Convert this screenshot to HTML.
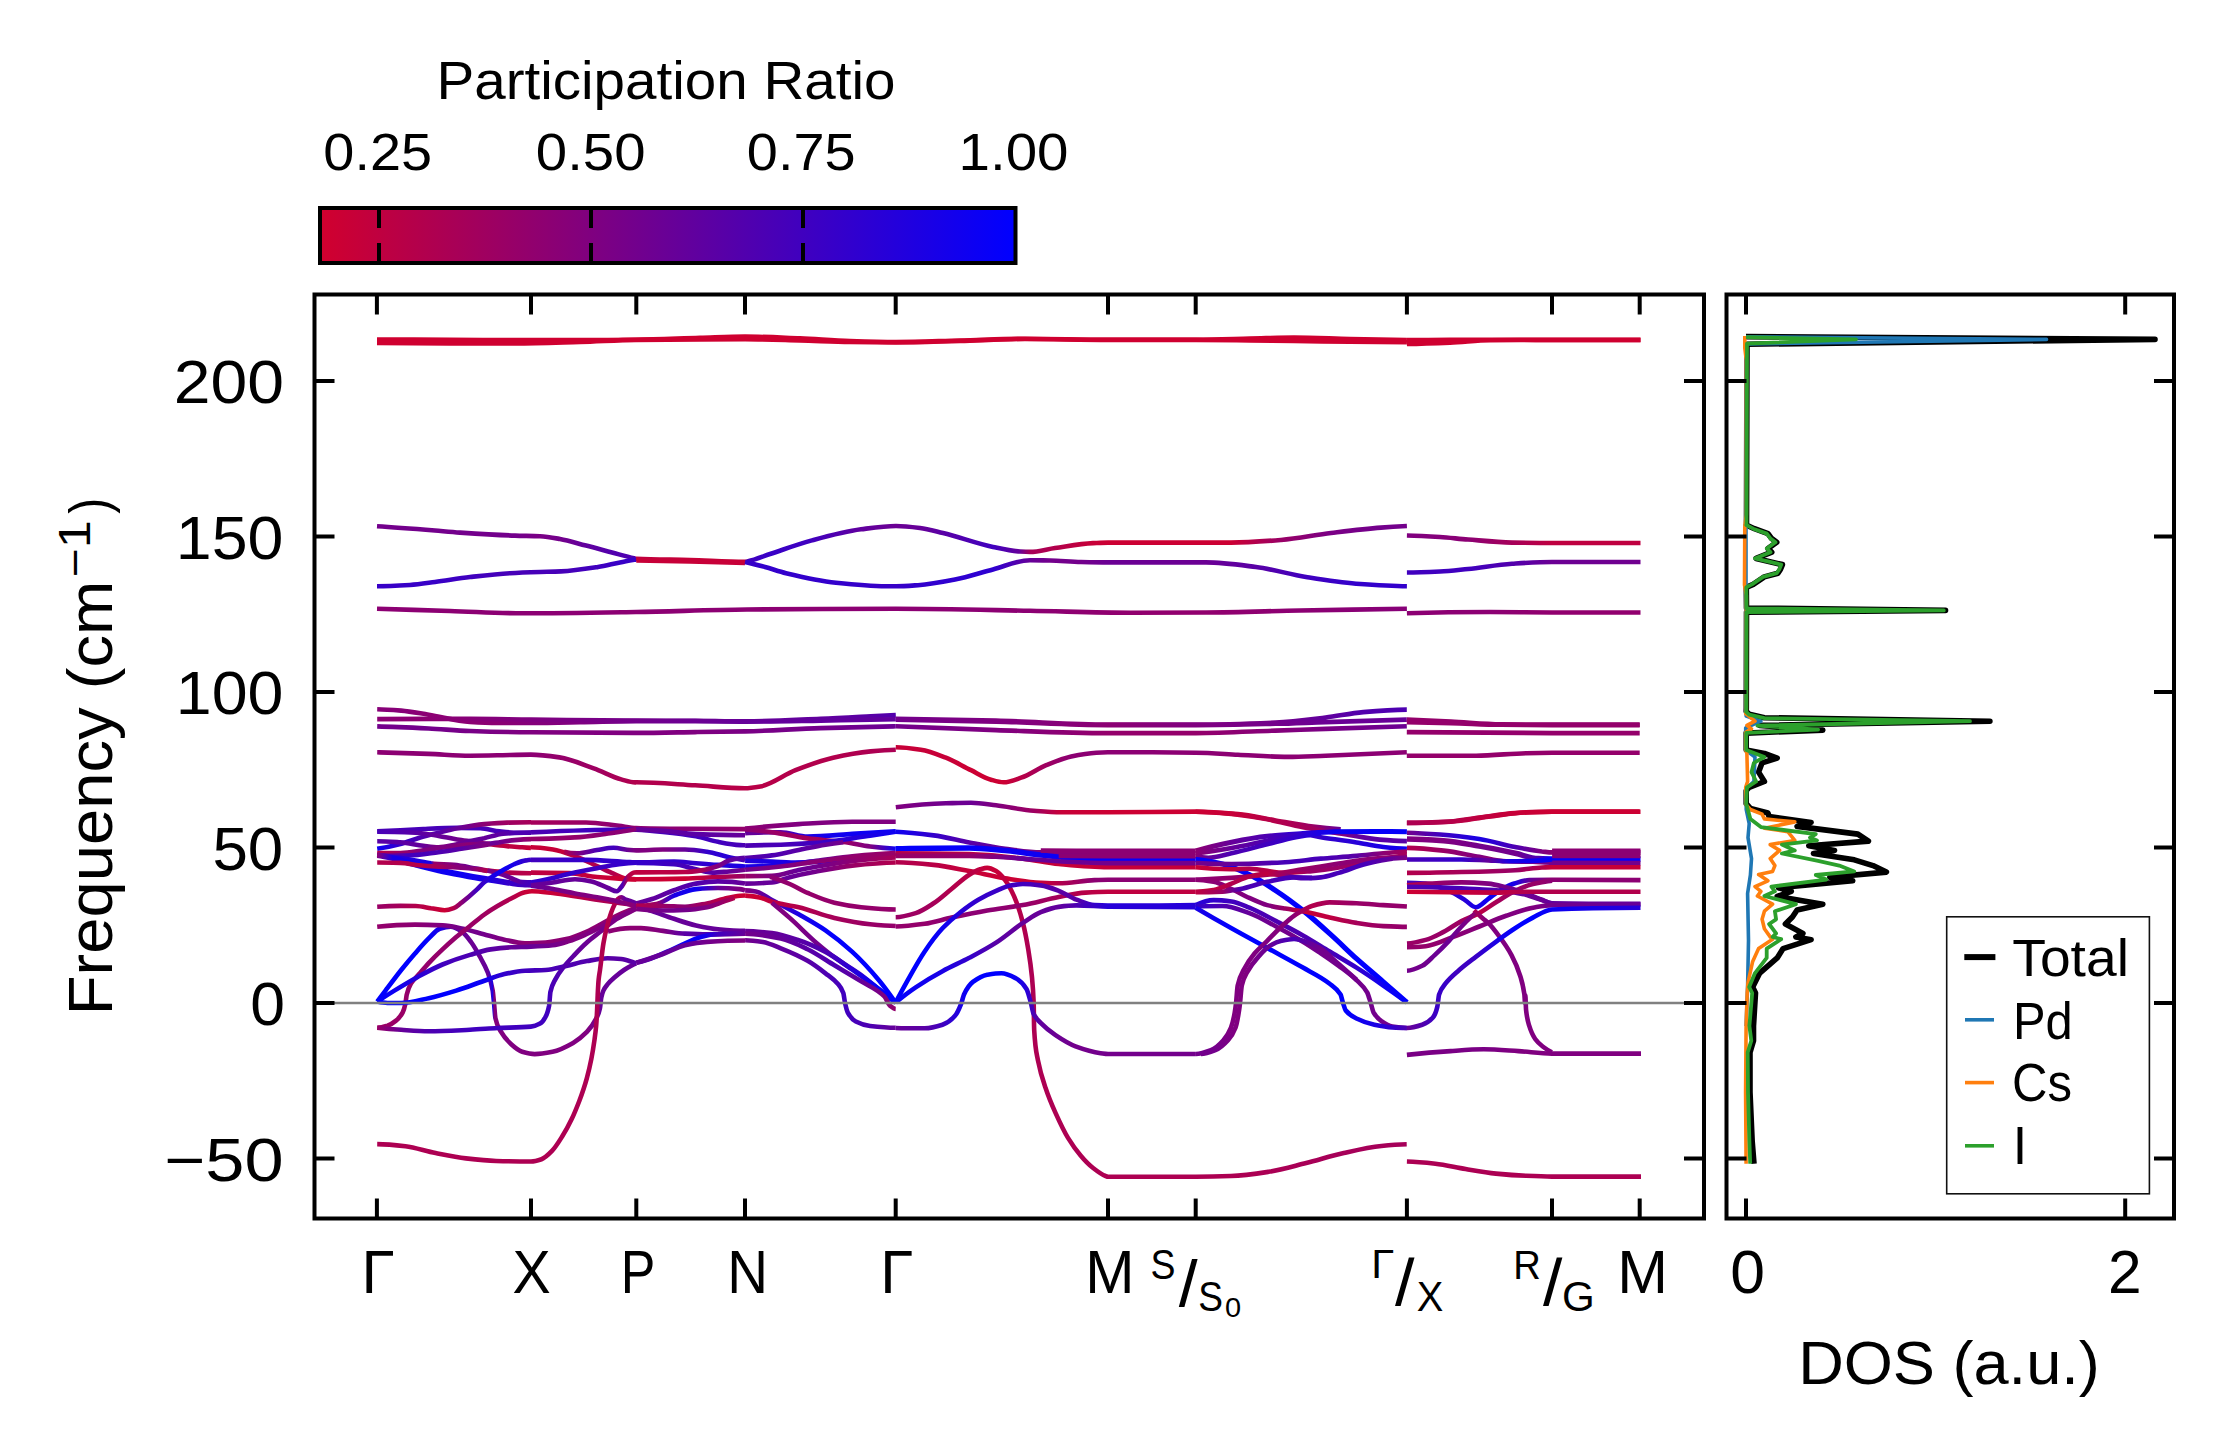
<!DOCTYPE html>
<html><head><meta charset="utf-8"><title>Phonon band structure</title>
<style>html,body{margin:0;padding:0;background:#fff}svg{display:block}</style></head>
<body><svg width="2234" height="1455" viewBox="0 0 2234 1455">
<rect width="2234" height="1455" fill="#fff"/>
<defs><linearGradient id="g1" gradientUnits="userSpaceOnUse" x1="377" y1="0" x2="1406.9" y2="0"><stop offset="0.000" stop-color="#73008c"/><stop offset="0.056" stop-color="#73008c"/><stop offset="0.081" stop-color="#73008c"/><stop offset="0.134" stop-color="#73008c"/><stop offset="0.158" stop-color="#7a0085"/><stop offset="0.178" stop-color="#73008c"/><stop offset="0.203" stop-color="#61009e"/><stop offset="0.228" stop-color="#5200ad"/><stop offset="0.250" stop-color="#4d00b2"/><stop offset="0.252" stop-color="#bf0040"/><stop offset="0.304" stop-color="#c70038"/><stop offset="0.357" stop-color="#c70038"/><stop offset="0.360" stop-color="#4000bf"/><stop offset="0.382" stop-color="#3800c7"/><stop offset="0.421" stop-color="#4000bf"/><stop offset="0.470" stop-color="#61009e"/><stop offset="0.504" stop-color="#6b0094"/><stop offset="0.527" stop-color="#660099"/><stop offset="0.550" stop-color="#5900a6"/><stop offset="0.598" stop-color="#4000bf"/><stop offset="0.624" stop-color="#660099"/><stop offset="0.634" stop-color="#a60059"/><stop offset="0.658" stop-color="#b2004c"/><stop offset="0.695" stop-color="#c70038"/><stop offset="0.710" stop-color="#cc0033"/><stop offset="0.829" stop-color="#cc0033"/><stop offset="0.878" stop-color="#990066"/><stop offset="0.926" stop-color="#7a0085"/><stop offset="0.975" stop-color="#73008c"/><stop offset="1.000" stop-color="#73008c"/></linearGradient>
<linearGradient id="g2" gradientUnits="userSpaceOnUse" x1="1406.9" y1="0" x2="1640.5" y2="0"><stop offset="0.000" stop-color="#800080"/><stop offset="0.142" stop-color="#85007a"/><stop offset="0.262" stop-color="#8c0073"/><stop offset="0.450" stop-color="#a60059"/><stop offset="0.621" stop-color="#bf0040"/><stop offset="1.000" stop-color="#bf0040"/></linearGradient>
<linearGradient id="g3" gradientUnits="userSpaceOnUse" x1="377" y1="0" x2="636.3" y2="0"><stop offset="0.000" stop-color="#3800c7"/><stop offset="0.127" stop-color="#3800c7"/><stop offset="0.224" stop-color="#3800c7"/><stop offset="0.359" stop-color="#4000bf"/><stop offset="0.513" stop-color="#4700b8"/><stop offset="0.629" stop-color="#4700b8"/><stop offset="0.710" stop-color="#4700b8"/><stop offset="0.852" stop-color="#4000bf"/><stop offset="0.937" stop-color="#3800c7"/><stop offset="1.000" stop-color="#3800c7"/></linearGradient>
<linearGradient id="g4" gradientUnits="userSpaceOnUse" x1="745" y1="0" x2="1406.9" y2="0"><stop offset="0.000" stop-color="#3800c7"/><stop offset="0.030" stop-color="#3300cc"/><stop offset="0.062" stop-color="#3300cc"/><stop offset="0.137" stop-color="#3300cc"/><stop offset="0.213" stop-color="#3800c7"/><stop offset="0.228" stop-color="#3800c7"/><stop offset="0.261" stop-color="#3300cc"/><stop offset="0.317" stop-color="#2e00d1"/><stop offset="0.375" stop-color="#2e00d1"/><stop offset="0.431" stop-color="#660099"/><stop offset="0.461" stop-color="#73008c"/><stop offset="0.508" stop-color="#73008c"/><stop offset="0.548" stop-color="#6b0094"/><stop offset="0.696" stop-color="#6b0094"/><stop offset="0.772" stop-color="#5900a6"/><stop offset="0.848" stop-color="#4000bf"/><stop offset="0.923" stop-color="#3300cc"/><stop offset="1.000" stop-color="#3300cc"/></linearGradient>
<linearGradient id="g5" gradientUnits="userSpaceOnUse" x1="1406.9" y1="0" x2="1640.5" y2="0"><stop offset="0.000" stop-color="#4000bf"/><stop offset="0.142" stop-color="#4000bf"/><stop offset="0.262" stop-color="#4000bf"/><stop offset="0.450" stop-color="#5200ad"/><stop offset="0.621" stop-color="#6b0094"/><stop offset="1.000" stop-color="#70008f"/></linearGradient>
<linearGradient id="g6" gradientUnits="userSpaceOnUse" x1="377" y1="0" x2="1406.9" y2="0"><stop offset="0.000" stop-color="#8c0073"/><stop offset="0.071" stop-color="#8c0073"/><stop offset="0.142" stop-color="#8c0073"/><stop offset="0.251" stop-color="#8c0073"/><stop offset="0.359" stop-color="#8c0073"/><stop offset="0.504" stop-color="#8c0073"/><stop offset="0.634" stop-color="#8c0073"/><stop offset="0.732" stop-color="#91006e"/><stop offset="0.805" stop-color="#91006e"/><stop offset="0.896" stop-color="#8c0073"/><stop offset="1.000" stop-color="#870078"/></linearGradient>
<linearGradient id="g7" gradientUnits="userSpaceOnUse" x1="1406.9" y1="0" x2="1640.5" y2="0"><stop offset="0.000" stop-color="#8c0073"/><stop offset="0.356" stop-color="#8c0073"/><stop offset="0.621" stop-color="#91006e"/><stop offset="1.000" stop-color="#91006e"/></linearGradient>
<linearGradient id="g8" gradientUnits="userSpaceOnUse" x1="377.2" y1="0" x2="895.8" y2="0"><stop offset="0.000" stop-color="#870078"/><stop offset="0.046" stop-color="#870078"/><stop offset="0.099" stop-color="#8c0073"/><stop offset="0.179" stop-color="#8c0073"/><stop offset="0.232" stop-color="#8c0073"/><stop offset="0.296" stop-color="#85007a"/><stop offset="0.391" stop-color="#800080"/><stop offset="0.500" stop-color="#73008c"/><stop offset="0.613" stop-color="#6b0094"/><stop offset="0.710" stop-color="#660099"/><stop offset="0.855" stop-color="#61009e"/><stop offset="0.952" stop-color="#5900a6"/><stop offset="1.000" stop-color="#5200ad"/></linearGradient>
<linearGradient id="g9" gradientUnits="userSpaceOnUse" x1="377.2" y1="0" x2="895.8" y2="0"><stop offset="0.000" stop-color="#8c0073"/><stop offset="0.099" stop-color="#8c0073"/><stop offset="0.179" stop-color="#870078"/><stop offset="0.296" stop-color="#800080"/><stop offset="0.500" stop-color="#73008c"/><stop offset="0.613" stop-color="#6b0094"/><stop offset="0.710" stop-color="#660099"/><stop offset="0.855" stop-color="#61009e"/><stop offset="0.952" stop-color="#61009e"/><stop offset="1.000" stop-color="#61009e"/></linearGradient>
<linearGradient id="g10" gradientUnits="userSpaceOnUse" x1="377.2" y1="0" x2="895.8" y2="0"><stop offset="0.000" stop-color="#73008c"/><stop offset="0.099" stop-color="#73008c"/><stop offset="0.179" stop-color="#780087"/><stop offset="0.296" stop-color="#800080"/><stop offset="0.500" stop-color="#800080"/><stop offset="0.613" stop-color="#800080"/><stop offset="0.710" stop-color="#7a0085"/><stop offset="0.855" stop-color="#73008c"/><stop offset="1.000" stop-color="#6b0094"/></linearGradient>
<linearGradient id="g11" gradientUnits="userSpaceOnUse" x1="377.2" y1="0" x2="895.8" y2="0"><stop offset="0.000" stop-color="#8c0073"/><stop offset="0.099" stop-color="#8c0073"/><stop offset="0.179" stop-color="#8c0073"/><stop offset="0.232" stop-color="#8c0073"/><stop offset="0.296" stop-color="#8c0073"/><stop offset="0.351" stop-color="#94006b"/><stop offset="0.418" stop-color="#9e0061"/><stop offset="0.471" stop-color="#ab0054"/><stop offset="0.497" stop-color="#b2004c"/><stop offset="0.500" stop-color="#b2004c"/><stop offset="0.613" stop-color="#b2004c"/><stop offset="0.709" stop-color="#b80047"/><stop offset="0.739" stop-color="#b80047"/><stop offset="0.807" stop-color="#b2004c"/><stop offset="0.879" stop-color="#b2004c"/><stop offset="0.952" stop-color="#ad0052"/><stop offset="1.000" stop-color="#ab0054"/></linearGradient>
<linearGradient id="g12" gradientUnits="userSpaceOnUse" x1="895.8" y1="0" x2="1406.8" y2="0"><stop offset="0.000" stop-color="#73008c"/><stop offset="0.196" stop-color="#800080"/><stop offset="0.415" stop-color="#8c0073"/><stop offset="0.587" stop-color="#800080"/><stop offset="0.743" stop-color="#73008c"/><stop offset="0.841" stop-color="#61009e"/><stop offset="0.915" stop-color="#5200ad"/><stop offset="1.000" stop-color="#4d00b2"/></linearGradient>
<linearGradient id="g13" gradientUnits="userSpaceOnUse" x1="895.8" y1="0" x2="1406.8" y2="0"><stop offset="0.000" stop-color="#73008c"/><stop offset="0.196" stop-color="#800080"/><stop offset="0.415" stop-color="#8c0073"/><stop offset="0.587" stop-color="#800080"/><stop offset="0.743" stop-color="#73008c"/><stop offset="0.841" stop-color="#6b0094"/><stop offset="1.000" stop-color="#660099"/></linearGradient>
<linearGradient id="g14" gradientUnits="userSpaceOnUse" x1="895.8" y1="0" x2="1406.8" y2="0"><stop offset="0.000" stop-color="#73008c"/><stop offset="0.196" stop-color="#800080"/><stop offset="0.415" stop-color="#94006b"/><stop offset="0.587" stop-color="#94006b"/><stop offset="0.743" stop-color="#85007a"/><stop offset="0.841" stop-color="#7a0085"/><stop offset="1.000" stop-color="#6b0094"/></linearGradient>
<linearGradient id="g15" gradientUnits="userSpaceOnUse" x1="895.8" y1="0" x2="1406.8" y2="0"><stop offset="0.000" stop-color="#c70038"/><stop offset="0.049" stop-color="#c70038"/><stop offset="0.098" stop-color="#c70038"/><stop offset="0.147" stop-color="#cc0033"/><stop offset="0.186" stop-color="#cc0033"/><stop offset="0.211" stop-color="#cc0033"/><stop offset="0.245" stop-color="#b80047"/><stop offset="0.294" stop-color="#9e0061"/><stop offset="0.343" stop-color="#8c0073"/><stop offset="0.392" stop-color="#8c0073"/><stop offset="0.415" stop-color="#8c0073"/><stop offset="0.587" stop-color="#8c0073"/><stop offset="0.669" stop-color="#8c0073"/><stop offset="0.768" stop-color="#8c0073"/><stop offset="0.841" stop-color="#8c0073"/><stop offset="1.000" stop-color="#8c0073"/></linearGradient>
<linearGradient id="g16" gradientUnits="userSpaceOnUse" x1="895.8" y1="0" x2="1340.7" y2="0"><stop offset="0.000" stop-color="#800080"/><stop offset="0.113" stop-color="#70008f"/><stop offset="0.169" stop-color="#6b0094"/><stop offset="0.225" stop-color="#800080"/><stop offset="0.310" stop-color="#9e0061"/><stop offset="0.372" stop-color="#c70038"/><stop offset="0.477" stop-color="#cc0033"/><stop offset="0.674" stop-color="#cc0033"/><stop offset="0.769" stop-color="#c70038"/><stop offset="0.853" stop-color="#b80047"/><stop offset="0.938" stop-color="#990066"/><stop offset="1.000" stop-color="#660099"/></linearGradient>
<linearGradient id="g17" gradientUnits="userSpaceOnUse" x1="1406.8" y1="0" x2="1639.7" y2="0"><stop offset="0.000" stop-color="#b2004c"/><stop offset="0.189" stop-color="#b80047"/><stop offset="0.351" stop-color="#bf0040"/><stop offset="0.512" stop-color="#c70038"/><stop offset="0.623" stop-color="#cc0033"/><stop offset="1.000" stop-color="#cc0033"/></linearGradient>
<linearGradient id="g18" gradientUnits="userSpaceOnUse" x1="377.2" y1="0" x2="531" y2="0"><stop offset="0.000" stop-color="#4700b8"/><stop offset="0.151" stop-color="#4700b8"/><stop offset="0.299" stop-color="#4700b8"/><stop offset="0.522" stop-color="#4700b8"/><stop offset="0.670" stop-color="#4700b8"/><stop offset="0.794" stop-color="#4700b8"/><stop offset="0.918" stop-color="#4d00b2"/><stop offset="1.000" stop-color="#5200ad"/></linearGradient>
<linearGradient id="g19" gradientUnits="userSpaceOnUse" x1="377.2" y1="0" x2="531" y2="0"><stop offset="0.000" stop-color="#0d00f2"/><stop offset="0.151" stop-color="#3300cc"/><stop offset="0.275" stop-color="#4d00b2"/><stop offset="0.398" stop-color="#5900a6"/><stop offset="0.522" stop-color="#660099"/><stop offset="0.695" stop-color="#8c0073"/><stop offset="0.844" stop-color="#9e0061"/><stop offset="1.000" stop-color="#a60059"/></linearGradient>
<linearGradient id="g20" gradientUnits="userSpaceOnUse" x1="377.2" y1="0" x2="531" y2="0"><stop offset="0.000" stop-color="#4700b8"/><stop offset="0.250" stop-color="#5900a6"/><stop offset="0.398" stop-color="#660099"/><stop offset="0.547" stop-color="#73008c"/><stop offset="0.646" stop-color="#800080"/><stop offset="0.735" stop-color="#b2004c"/><stop offset="0.844" stop-color="#bf0040"/><stop offset="0.943" stop-color="#bf0040"/><stop offset="1.000" stop-color="#c70038"/></linearGradient>
<linearGradient id="g21" gradientUnits="userSpaceOnUse" x1="377.2" y1="0" x2="531" y2="0"><stop offset="0.000" stop-color="#5900a6"/><stop offset="0.151" stop-color="#5900a6"/><stop offset="0.299" stop-color="#660099"/><stop offset="0.398" stop-color="#800080"/><stop offset="0.497" stop-color="#73008c"/><stop offset="0.596" stop-color="#660099"/><stop offset="0.695" stop-color="#660099"/><stop offset="0.819" stop-color="#5900a6"/><stop offset="0.893" stop-color="#4d00b2"/><stop offset="1.000" stop-color="#4d00b2"/></linearGradient>
<linearGradient id="g22" gradientUnits="userSpaceOnUse" x1="377.2" y1="0" x2="531" y2="0"><stop offset="0.000" stop-color="#bf0040"/><stop offset="0.151" stop-color="#990066"/><stop offset="0.299" stop-color="#800080"/><stop offset="0.448" stop-color="#800080"/><stop offset="0.596" stop-color="#8c0073"/><stop offset="0.735" stop-color="#660099"/><stop offset="0.893" stop-color="#800080"/><stop offset="1.000" stop-color="#94006b"/></linearGradient>
<linearGradient id="g23" gradientUnits="userSpaceOnUse" x1="377.2" y1="0" x2="490.2" y2="0"><stop offset="0.000" stop-color="#8c0073"/><stop offset="0.273" stop-color="#4000bf"/><stop offset="0.542" stop-color="#4d00b2"/><stop offset="0.744" stop-color="#5900a6"/><stop offset="0.946" stop-color="#800080"/><stop offset="1.000" stop-color="#800080"/></linearGradient>
<linearGradient id="g24" gradientUnits="userSpaceOnUse" x1="377.2" y1="0" x2="531" y2="0"><stop offset="0.000" stop-color="#800080"/><stop offset="0.151" stop-color="#2600d9"/><stop offset="0.349" stop-color="#1900e6"/><stop offset="0.369" stop-color="#990066"/><stop offset="0.497" stop-color="#800080"/><stop offset="0.646" stop-color="#660099"/><stop offset="0.715" stop-color="#b2004c"/><stop offset="0.794" stop-color="#bf0040"/><stop offset="0.844" stop-color="#b2004c"/><stop offset="1.000" stop-color="#b80047"/></linearGradient>
<linearGradient id="g25" gradientUnits="userSpaceOnUse" x1="377.2" y1="0" x2="531" y2="0"><stop offset="0.000" stop-color="#800080"/><stop offset="0.101" stop-color="#1900e6"/><stop offset="0.200" stop-color="#1400eb"/><stop offset="0.398" stop-color="#0d00f2"/><stop offset="0.547" stop-color="#0d00f2"/><stop offset="0.695" stop-color="#1900e6"/><stop offset="0.844" stop-color="#3300cc"/><stop offset="0.943" stop-color="#4000bf"/><stop offset="1.000" stop-color="#4d00b2"/></linearGradient>
<linearGradient id="g26" gradientUnits="userSpaceOnUse" x1="377.2" y1="0" x2="531" y2="0"><stop offset="0.000" stop-color="#8c0073"/><stop offset="0.101" stop-color="#1900e6"/><stop offset="0.200" stop-color="#1400eb"/><stop offset="0.398" stop-color="#0d00f2"/><stop offset="0.547" stop-color="#0d00f2"/><stop offset="0.695" stop-color="#1900e6"/><stop offset="0.844" stop-color="#3300cc"/><stop offset="0.943" stop-color="#4000bf"/><stop offset="1.000" stop-color="#4d00b2"/></linearGradient>
<linearGradient id="g27" gradientUnits="userSpaceOnUse" x1="487.2" y1="0" x2="531" y2="0"><stop offset="0.000" stop-color="#800080"/><stop offset="0.365" stop-color="#73008c"/><stop offset="0.625" stop-color="#660099"/><stop offset="0.799" stop-color="#4d00b2"/><stop offset="1.000" stop-color="#4000bf"/></linearGradient>
<linearGradient id="g28" gradientUnits="userSpaceOnUse" x1="377.2" y1="0" x2="487.2" y2="0"><stop offset="0.000" stop-color="#b2004c"/><stop offset="0.211" stop-color="#b2004c"/><stop offset="0.384" stop-color="#b80047"/><stop offset="0.557" stop-color="#a60059"/><stop offset="0.696" stop-color="#8c0073"/><stop offset="0.834" stop-color="#800080"/><stop offset="1.000" stop-color="#b2004c"/></linearGradient>
<linearGradient id="g29" gradientUnits="userSpaceOnUse" x1="377.2" y1="0" x2="531" y2="0"><stop offset="0.000" stop-color="#990066"/><stop offset="0.151" stop-color="#a60059"/><stop offset="0.250" stop-color="#b2004c"/><stop offset="0.349" stop-color="#bf0040"/><stop offset="0.438" stop-color="#cc0033"/><stop offset="0.497" stop-color="#b2004c"/><stop offset="0.547" stop-color="#8c0073"/><stop offset="0.646" stop-color="#4000bf"/><stop offset="0.695" stop-color="#3300cc"/><stop offset="0.745" stop-color="#1900e6"/><stop offset="0.819" stop-color="#0d00f2"/><stop offset="0.893" stop-color="#1900e6"/><stop offset="0.967" stop-color="#3300cc"/><stop offset="1.000" stop-color="#3800c7"/></linearGradient>
<linearGradient id="g30" gradientUnits="userSpaceOnUse" x1="377.2" y1="0" x2="636.2" y2="0"><stop offset="0.000" stop-color="#0000ff"/><stop offset="0.040" stop-color="#0000ff"/><stop offset="0.093" stop-color="#0000ff"/><stop offset="0.146" stop-color="#0000ff"/><stop offset="0.199" stop-color="#0500fa"/><stop offset="0.242" stop-color="#1900e6"/><stop offset="0.284" stop-color="#4d00b2"/><stop offset="0.326" stop-color="#660099"/><stop offset="0.364" stop-color="#6b0094"/><stop offset="0.395" stop-color="#6b0094"/><stop offset="0.427" stop-color="#660099"/><stop offset="0.446" stop-color="#1900e6"/><stop offset="0.451" stop-color="#8c0073"/><stop offset="0.456" stop-color="#85007a"/><stop offset="0.475" stop-color="#800080"/><stop offset="0.518" stop-color="#800080"/><stop offset="0.560" stop-color="#800080"/><stop offset="0.608" stop-color="#800080"/><stop offset="0.677" stop-color="#800080"/><stop offset="0.756" stop-color="#800080"/><stop offset="0.809" stop-color="#800080"/><stop offset="0.847" stop-color="#73008c"/><stop offset="0.860" stop-color="#660099"/><stop offset="0.865" stop-color="#660099"/><stop offset="0.873" stop-color="#660099"/><stop offset="0.889" stop-color="#660099"/><stop offset="0.916" stop-color="#660099"/><stop offset="0.953" stop-color="#660099"/><stop offset="1.000" stop-color="#660099"/></linearGradient>
<linearGradient id="g31" gradientUnits="userSpaceOnUse" x1="377.2" y1="0" x2="636.2" y2="0"><stop offset="0.000" stop-color="#94006b"/><stop offset="0.146" stop-color="#8c0073"/><stop offset="0.252" stop-color="#800080"/><stop offset="0.332" stop-color="#73008c"/><stop offset="0.411" stop-color="#73008c"/><stop offset="0.491" stop-color="#800080"/><stop offset="0.571" stop-color="#8c0073"/><stop offset="0.650" stop-color="#8c0073"/><stop offset="0.730" stop-color="#8c0073"/><stop offset="0.809" stop-color="#8c0073"/><stop offset="0.889" stop-color="#8c0073"/><stop offset="0.942" stop-color="#94006b"/><stop offset="1.000" stop-color="#990066"/></linearGradient>
<linearGradient id="g32" gradientUnits="userSpaceOnUse" x1="377.2" y1="0" x2="636.2" y2="0"><stop offset="0.000" stop-color="#990066"/><stop offset="0.040" stop-color="#990066"/><stop offset="0.072" stop-color="#990066"/><stop offset="0.098" stop-color="#990066"/><stop offset="0.109" stop-color="#990066"/><stop offset="0.114" stop-color="#94006b"/><stop offset="0.130" stop-color="#94006b"/><stop offset="0.162" stop-color="#94006b"/><stop offset="0.199" stop-color="#94006b"/><stop offset="0.252" stop-color="#94006b"/><stop offset="0.305" stop-color="#94006b"/><stop offset="0.358" stop-color="#990066"/><stop offset="0.411" stop-color="#9e0061"/><stop offset="0.464" stop-color="#a60059"/><stop offset="0.518" stop-color="#b2004c"/><stop offset="0.571" stop-color="#c70038"/><stop offset="0.597" stop-color="#cc0033"/><stop offset="0.677" stop-color="#c70038"/><stop offset="0.783" stop-color="#b80047"/><stop offset="0.889" stop-color="#ab0054"/><stop offset="1.000" stop-color="#a60059"/></linearGradient>
<linearGradient id="g33" gradientUnits="userSpaceOnUse" x1="377.2" y1="0" x2="636.2" y2="0"><stop offset="0.000" stop-color="#0000ff"/><stop offset="0.066" stop-color="#0d00f2"/><stop offset="0.157" stop-color="#2600d9"/><stop offset="0.252" stop-color="#4000bf"/><stop offset="0.358" stop-color="#4d00b2"/><stop offset="0.438" stop-color="#5900a6"/><stop offset="0.518" stop-color="#660099"/><stop offset="0.593" stop-color="#660099"/><stop offset="0.677" stop-color="#73008c"/><stop offset="0.740" stop-color="#800080"/><stop offset="0.809" stop-color="#800080"/><stop offset="0.889" stop-color="#800080"/><stop offset="0.942" stop-color="#800080"/><stop offset="1.000" stop-color="#800080"/></linearGradient>
<linearGradient id="g34" gradientUnits="userSpaceOnUse" x1="377.2" y1="0" x2="636.2" y2="0"><stop offset="0.000" stop-color="#0000ff"/><stop offset="0.040" stop-color="#0000ff"/><stop offset="0.093" stop-color="#0000ff"/><stop offset="0.199" stop-color="#0000ff"/><stop offset="0.305" stop-color="#0000ff"/><stop offset="0.411" stop-color="#0d00f2"/><stop offset="0.491" stop-color="#3300cc"/><stop offset="0.571" stop-color="#4000bf"/><stop offset="0.650" stop-color="#4700b8"/><stop offset="0.730" stop-color="#4d00b2"/><stop offset="0.809" stop-color="#5200ad"/><stop offset="0.889" stop-color="#5900a6"/><stop offset="0.942" stop-color="#5900a6"/><stop offset="0.990" stop-color="#5900a6"/><stop offset="1.000" stop-color="#5900a6"/></linearGradient>
<linearGradient id="g35" gradientUnits="userSpaceOnUse" x1="377.2" y1="0" x2="636.2" y2="0"><stop offset="0.000" stop-color="#990066"/><stop offset="0.093" stop-color="#660099"/><stop offset="0.199" stop-color="#4d00b2"/><stop offset="0.358" stop-color="#4000bf"/><stop offset="0.464" stop-color="#4000bf"/><stop offset="0.593" stop-color="#4000bf"/><stop offset="0.629" stop-color="#4000bf"/><stop offset="0.650" stop-color="#4000bf"/><stop offset="0.663" stop-color="#4000bf"/><stop offset="0.669" stop-color="#4700b8"/><stop offset="0.687" stop-color="#4d00b2"/><stop offset="0.719" stop-color="#5200ad"/><stop offset="0.762" stop-color="#61009e"/><stop offset="0.809" stop-color="#6b0094"/><stop offset="0.863" stop-color="#73008c"/><stop offset="0.916" stop-color="#7a0085"/><stop offset="0.969" stop-color="#800080"/><stop offset="1.000" stop-color="#800080"/></linearGradient>
<linearGradient id="g36" gradientUnits="userSpaceOnUse" x1="377.2" y1="0" x2="636.3" y2="0"><stop offset="0.000" stop-color="#ad0052"/><stop offset="0.109" stop-color="#ad0052"/><stop offset="0.225" stop-color="#ad0052"/><stop offset="0.342" stop-color="#ad0052"/><stop offset="0.459" stop-color="#ad0052"/><stop offset="0.594" stop-color="#ad0052"/><stop offset="0.634" stop-color="#ad0052"/><stop offset="0.675" stop-color="#ad0052"/><stop offset="0.716" stop-color="#ad0052"/><stop offset="0.751" stop-color="#ad0052"/><stop offset="0.780" stop-color="#ad0052"/><stop offset="0.809" stop-color="#ad0052"/><stop offset="0.827" stop-color="#ad0052"/><stop offset="0.838" stop-color="#ad0052"/><stop offset="0.845" stop-color="#ad0052"/><stop offset="0.849" stop-color="#ad0052"/><stop offset="0.851" stop-color="#ad0052"/><stop offset="0.855" stop-color="#ad0052"/><stop offset="0.860" stop-color="#ad0052"/><stop offset="0.873" stop-color="#b2004c"/><stop offset="0.887" stop-color="#b2004c"/><stop offset="0.903" stop-color="#b2004c"/><stop offset="0.916" stop-color="#b2004c"/><stop offset="0.929" stop-color="#a60059"/><stop offset="0.942" stop-color="#800080"/><stop offset="0.954" stop-color="#660099"/><stop offset="0.976" stop-color="#660099"/><stop offset="1.000" stop-color="#660099"/></linearGradient>
<linearGradient id="g37" gradientUnits="userSpaceOnUse" x1="531" y1="0" x2="745" y2="0"><stop offset="0.000" stop-color="#a60059"/><stop offset="0.257" stop-color="#990066"/><stop offset="0.411" stop-color="#8c0073"/><stop offset="0.492" stop-color="#8c0073"/><stop offset="0.719" stop-color="#8c0073"/><stop offset="1.000" stop-color="#94006b"/></linearGradient>
<linearGradient id="g38" gradientUnits="userSpaceOnUse" x1="531" y1="0" x2="745" y2="0"><stop offset="0.000" stop-color="#4d00b2"/><stop offset="0.257" stop-color="#4000bf"/><stop offset="0.462" stop-color="#4000bf"/><stop offset="0.492" stop-color="#4d00b2"/><stop offset="0.617" stop-color="#4700b8"/><stop offset="0.771" stop-color="#4000bf"/><stop offset="0.874" stop-color="#4000bf"/><stop offset="0.976" stop-color="#4700b8"/><stop offset="1.000" stop-color="#4d00b2"/></linearGradient>
<linearGradient id="g39" gradientUnits="userSpaceOnUse" x1="636.3" y1="0" x2="745" y2="0"><stop offset="0.000" stop-color="#660099"/><stop offset="0.246" stop-color="#61009e"/><stop offset="0.549" stop-color="#5900a6"/><stop offset="1.000" stop-color="#660099"/></linearGradient>
<linearGradient id="g40" gradientUnits="userSpaceOnUse" x1="531" y1="0" x2="636.3" y2="0"><stop offset="0.000" stop-color="#94006b"/><stop offset="0.418" stop-color="#94006b"/><stop offset="0.731" stop-color="#8c0073"/><stop offset="0.940" stop-color="#8c0073"/><stop offset="1.000" stop-color="#8c0073"/></linearGradient>
<linearGradient id="g41" gradientUnits="userSpaceOnUse" x1="531" y1="0" x2="745" y2="0"><stop offset="0.000" stop-color="#c70038"/><stop offset="0.103" stop-color="#c70038"/><stop offset="0.206" stop-color="#bf0040"/><stop offset="0.308" stop-color="#b2004c"/><stop offset="0.385" stop-color="#b2004c"/><stop offset="0.437" stop-color="#cc0033"/><stop offset="0.492" stop-color="#cc0033"/><stop offset="0.719" stop-color="#cc0033"/><stop offset="0.874" stop-color="#b2004c"/><stop offset="1.000" stop-color="#990066"/></linearGradient>
<linearGradient id="g42" gradientUnits="userSpaceOnUse" x1="531" y1="0" x2="745" y2="0"><stop offset="0.000" stop-color="#4000bf"/><stop offset="0.257" stop-color="#3300cc"/><stop offset="0.462" stop-color="#3300cc"/><stop offset="0.492" stop-color="#3300cc"/><stop offset="0.668" stop-color="#3300cc"/><stop offset="0.771" stop-color="#3300cc"/><stop offset="0.874" stop-color="#2600d9"/><stop offset="1.000" stop-color="#1900e6"/></linearGradient>
<linearGradient id="g43" gradientUnits="userSpaceOnUse" x1="636.3" y1="0" x2="745" y2="0"><stop offset="0.000" stop-color="#3300cc"/><stop offset="0.347" stop-color="#4000bf"/><stop offset="0.549" stop-color="#4d00b2"/><stop offset="0.701" stop-color="#5900a6"/><stop offset="0.852" stop-color="#660099"/><stop offset="1.000" stop-color="#73008c"/></linearGradient>
<linearGradient id="g44" gradientUnits="userSpaceOnUse" x1="564" y1="0" x2="745" y2="0"><stop offset="0.000" stop-color="#b2004c"/><stop offset="0.073" stop-color="#800080"/><stop offset="0.182" stop-color="#4d00b2"/><stop offset="0.273" stop-color="#4000bf"/><stop offset="0.365" stop-color="#73008c"/><stop offset="0.399" stop-color="#800080"/><stop offset="0.547" stop-color="#800080"/><stop offset="0.668" stop-color="#660099"/><stop offset="0.790" stop-color="#3300cc"/><stop offset="0.911" stop-color="#2600d9"/><stop offset="1.000" stop-color="#4d00b2"/></linearGradient>
<linearGradient id="g45" gradientUnits="userSpaceOnUse" x1="531" y1="0" x2="636.3" y2="0"><stop offset="0.000" stop-color="#bf0040"/><stop offset="0.366" stop-color="#bf0040"/><stop offset="0.627" stop-color="#c70038"/><stop offset="0.836" stop-color="#cc0033"/><stop offset="1.000" stop-color="#cc0033"/></linearGradient>
<linearGradient id="g46" gradientUnits="userSpaceOnUse" x1="531" y1="0" x2="636.3" y2="0"><stop offset="0.000" stop-color="#3300cc"/><stop offset="0.157" stop-color="#3300cc"/><stop offset="0.366" stop-color="#3300cc"/><stop offset="0.627" stop-color="#4000bf"/><stop offset="0.836" stop-color="#3300cc"/><stop offset="1.000" stop-color="#3300cc"/></linearGradient>
<linearGradient id="g47" gradientUnits="userSpaceOnUse" x1="531" y1="0" x2="745" y2="0"><stop offset="0.000" stop-color="#660099"/><stop offset="0.103" stop-color="#660099"/><stop offset="0.206" stop-color="#660099"/><stop offset="0.283" stop-color="#660099"/><stop offset="0.360" stop-color="#660099"/><stop offset="0.401" stop-color="#5900a6"/><stop offset="0.427" stop-color="#4d00b2"/><stop offset="0.452" stop-color="#b2004c"/><stop offset="0.483" stop-color="#bf0040"/><stop offset="0.492" stop-color="#bf0040"/><stop offset="0.719" stop-color="#b80047"/><stop offset="0.797" stop-color="#a60059"/><stop offset="0.874" stop-color="#800080"/><stop offset="0.925" stop-color="#660099"/><stop offset="0.976" stop-color="#5900a6"/><stop offset="1.000" stop-color="#5900a6"/></linearGradient>
<linearGradient id="g48" gradientUnits="userSpaceOnUse" x1="531" y1="0" x2="745" y2="0"><stop offset="0.000" stop-color="#660099"/><stop offset="0.103" stop-color="#73008c"/><stop offset="0.206" stop-color="#800080"/><stop offset="0.308" stop-color="#800080"/><stop offset="0.401" stop-color="#800080"/><stop offset="0.462" stop-color="#8c0073"/><stop offset="0.492" stop-color="#800080"/><stop offset="0.565" stop-color="#660099"/><stop offset="0.668" stop-color="#660099"/><stop offset="0.771" stop-color="#660099"/><stop offset="0.874" stop-color="#660099"/><stop offset="1.000" stop-color="#660099"/></linearGradient>
<linearGradient id="g49" gradientUnits="userSpaceOnUse" x1="636.3" y1="0" x2="745" y2="0"><stop offset="0.000" stop-color="#660099"/><stop offset="0.145" stop-color="#61009e"/><stop offset="0.347" stop-color="#5900a6"/><stop offset="0.549" stop-color="#5200ad"/><stop offset="0.751" stop-color="#5900a6"/><stop offset="1.000" stop-color="#660099"/></linearGradient>
<linearGradient id="g50" gradientUnits="userSpaceOnUse" x1="636.3" y1="0" x2="745" y2="0"><stop offset="0.000" stop-color="#b2004c"/><stop offset="0.185" stop-color="#990066"/><stop offset="0.347" stop-color="#1900e6"/><stop offset="0.549" stop-color="#0d00f2"/><stop offset="0.751" stop-color="#660099"/><stop offset="0.953" stop-color="#800080"/><stop offset="1.000" stop-color="#800080"/></linearGradient>
<linearGradient id="g51" gradientUnits="userSpaceOnUse" x1="636.3" y1="0" x2="745" y2="0"><stop offset="0.000" stop-color="#b2004c"/><stop offset="0.246" stop-color="#990066"/><stop offset="0.448" stop-color="#8c0073"/><stop offset="0.650" stop-color="#a60059"/><stop offset="0.802" stop-color="#bf0040"/><stop offset="0.953" stop-color="#cc0033"/><stop offset="1.000" stop-color="#cc0033"/></linearGradient>
<linearGradient id="g52" gradientUnits="userSpaceOnUse" x1="636.3" y1="0" x2="734.5" y2="0"><stop offset="0.000" stop-color="#800080"/><stop offset="0.272" stop-color="#73008c"/><stop offset="0.496" stop-color="#73008c"/><stop offset="0.720" stop-color="#800080"/><stop offset="0.888" stop-color="#990066"/><stop offset="1.000" stop-color="#b2004c"/></linearGradient>
<linearGradient id="g53" gradientUnits="userSpaceOnUse" x1="608" y1="0" x2="745" y2="0"><stop offset="0.000" stop-color="#8c0073"/><stop offset="0.161" stop-color="#8c0073"/><stop offset="0.241" stop-color="#8c0073"/><stop offset="0.401" stop-color="#800080"/><stop offset="0.562" stop-color="#5900a6"/><stop offset="0.722" stop-color="#4d00b2"/><stop offset="1.000" stop-color="#73008c"/></linearGradient>
<linearGradient id="g54" gradientUnits="userSpaceOnUse" x1="636.3" y1="0" x2="745" y2="0"><stop offset="0.000" stop-color="#660099"/><stop offset="0.094" stop-color="#4d00b2"/><stop offset="0.347" stop-color="#0d00f2"/><stop offset="0.549" stop-color="#0500fa"/><stop offset="0.650" stop-color="#1900e6"/><stop offset="0.751" stop-color="#4000bf"/><stop offset="1.000" stop-color="#660099"/></linearGradient>
<linearGradient id="g55" gradientUnits="userSpaceOnUse" x1="636.3" y1="0" x2="745" y2="0"><stop offset="0.000" stop-color="#660099"/><stop offset="0.246" stop-color="#660099"/><stop offset="0.448" stop-color="#660099"/><stop offset="0.650" stop-color="#73008c"/><stop offset="1.000" stop-color="#800080"/></linearGradient>
<linearGradient id="g56" gradientUnits="userSpaceOnUse" x1="745.1" y1="0" x2="895.7" y2="0"><stop offset="0.000" stop-color="#8c0073"/><stop offset="0.356" stop-color="#800080"/><stop offset="0.712" stop-color="#800080"/><stop offset="1.000" stop-color="#800080"/></linearGradient>
<linearGradient id="g57" gradientUnits="userSpaceOnUse" x1="745.1" y1="0" x2="895.7" y2="0"><stop offset="0.000" stop-color="#660099"/><stop offset="0.237" stop-color="#61009e"/><stop offset="0.415" stop-color="#1900e6"/><stop offset="0.712" stop-color="#0d00f2"/><stop offset="1.000" stop-color="#0d00f2"/></linearGradient>
<linearGradient id="g58" gradientUnits="userSpaceOnUse" x1="745.1" y1="0" x2="895.7" y2="0"><stop offset="0.000" stop-color="#8c0073"/><stop offset="0.178" stop-color="#990066"/><stop offset="0.415" stop-color="#a60059"/><stop offset="0.652" stop-color="#990066"/><stop offset="0.830" stop-color="#800080"/><stop offset="1.000" stop-color="#0d00f2"/></linearGradient>
<linearGradient id="g59" gradientUnits="userSpaceOnUse" x1="745.1" y1="0" x2="895.7" y2="0"><stop offset="0.000" stop-color="#4d00b2"/><stop offset="0.237" stop-color="#4700b8"/><stop offset="0.474" stop-color="#4000bf"/><stop offset="0.712" stop-color="#2600d9"/><stop offset="0.830" stop-color="#1900e6"/><stop offset="1.000" stop-color="#0d00f2"/></linearGradient>
<linearGradient id="g60" gradientUnits="userSpaceOnUse" x1="745.1" y1="0" x2="843.3" y2="0"><stop offset="0.000" stop-color="#5900a6"/><stop offset="0.273" stop-color="#4d00b2"/><stop offset="0.545" stop-color="#5900a6"/><stop offset="0.818" stop-color="#660099"/><stop offset="1.000" stop-color="#73008c"/></linearGradient>
<linearGradient id="g61" gradientUnits="userSpaceOnUse" x1="745.1" y1="0" x2="895.7" y2="0"><stop offset="0.000" stop-color="#2600d9"/><stop offset="0.178" stop-color="#1900e6"/><stop offset="0.356" stop-color="#1900e6"/><stop offset="0.652" stop-color="#3300cc"/><stop offset="0.830" stop-color="#800080"/><stop offset="1.000" stop-color="#990066"/></linearGradient>
<linearGradient id="g62" gradientUnits="userSpaceOnUse" x1="745.1" y1="0" x2="895.7" y2="0"><stop offset="0.000" stop-color="#1900e6"/><stop offset="0.178" stop-color="#1900e6"/><stop offset="0.356" stop-color="#2600d9"/><stop offset="0.474" stop-color="#660099"/><stop offset="0.712" stop-color="#8c0073"/><stop offset="1.000" stop-color="#990066"/></linearGradient>
<linearGradient id="g63" gradientUnits="userSpaceOnUse" x1="745.1" y1="0" x2="895.7" y2="0"><stop offset="0.000" stop-color="#73008c"/><stop offset="0.237" stop-color="#800080"/><stop offset="0.474" stop-color="#8c0073"/><stop offset="0.712" stop-color="#94006b"/><stop offset="1.000" stop-color="#990066"/></linearGradient>
<linearGradient id="g64" gradientUnits="userSpaceOnUse" x1="745.1" y1="0" x2="895.7" y2="0"><stop offset="0.000" stop-color="#990066"/><stop offset="0.178" stop-color="#800080"/><stop offset="0.356" stop-color="#660099"/><stop offset="0.593" stop-color="#800080"/><stop offset="0.830" stop-color="#990066"/><stop offset="1.000" stop-color="#a60059"/></linearGradient>
<linearGradient id="g65" gradientUnits="userSpaceOnUse" x1="745.1" y1="0" x2="895.7" y2="0"><stop offset="0.000" stop-color="#660099"/><stop offset="0.178" stop-color="#660099"/><stop offset="0.297" stop-color="#660099"/><stop offset="0.474" stop-color="#73008c"/><stop offset="0.712" stop-color="#990066"/><stop offset="1.000" stop-color="#b2004c"/></linearGradient>
<linearGradient id="g66" gradientUnits="userSpaceOnUse" x1="745.1" y1="0" x2="895.7" y2="0"><stop offset="0.000" stop-color="#800080"/><stop offset="0.071" stop-color="#73008c"/><stop offset="0.178" stop-color="#4d00b2"/><stop offset="0.356" stop-color="#1900e6"/><stop offset="0.534" stop-color="#0500fa"/><stop offset="0.712" stop-color="#0000ff"/><stop offset="0.890" stop-color="#0000ff"/><stop offset="1.000" stop-color="#0000ff"/></linearGradient>
<linearGradient id="g67" gradientUnits="userSpaceOnUse" x1="745.1" y1="0" x2="895.7" y2="0"><stop offset="0.000" stop-color="#cc0033"/><stop offset="0.095" stop-color="#cc0033"/><stop offset="0.178" stop-color="#bf0040"/><stop offset="0.356" stop-color="#b2004c"/><stop offset="0.593" stop-color="#a60059"/><stop offset="0.830" stop-color="#990066"/><stop offset="1.000" stop-color="#94006b"/></linearGradient>
<linearGradient id="g68" gradientUnits="userSpaceOnUse" x1="770.1" y1="0" x2="895.7" y2="0"><stop offset="0.000" stop-color="#8c0073"/><stop offset="0.156" stop-color="#94006b"/><stop offset="0.299" stop-color="#94006b"/><stop offset="0.512" stop-color="#94006b"/><stop offset="0.725" stop-color="#94006b"/><stop offset="1.000" stop-color="#94006b"/></linearGradient>
<linearGradient id="g69" gradientUnits="userSpaceOnUse" x1="771.9" y1="0" x2="895.7" y2="0"><stop offset="0.000" stop-color="#800080"/><stop offset="0.144" stop-color="#800080"/><stop offset="0.361" stop-color="#73008c"/><stop offset="0.505" stop-color="#660099"/><stop offset="0.722" stop-color="#3300cc"/><stop offset="0.866" stop-color="#0d00f2"/><stop offset="1.000" stop-color="#0000ff"/></linearGradient>
<linearGradient id="g70" gradientUnits="userSpaceOnUse" x1="745.1" y1="0" x2="895.7" y2="0"><stop offset="0.000" stop-color="#660099"/><stop offset="0.178" stop-color="#660099"/><stop offset="0.356" stop-color="#5900a6"/><stop offset="0.534" stop-color="#4d00b2"/><stop offset="0.712" stop-color="#2600d9"/><stop offset="0.890" stop-color="#0500fa"/><stop offset="1.000" stop-color="#0000ff"/></linearGradient>
<linearGradient id="g71" gradientUnits="userSpaceOnUse" x1="745.1" y1="0" x2="895.7" y2="0"><stop offset="0.000" stop-color="#73008c"/><stop offset="0.237" stop-color="#660099"/><stop offset="0.415" stop-color="#5900a6"/><stop offset="0.593" stop-color="#4d00b2"/><stop offset="0.771" stop-color="#660099"/><stop offset="0.925" stop-color="#800080"/><stop offset="0.961" stop-color="#8c0073"/><stop offset="1.000" stop-color="#94006b"/></linearGradient>
<linearGradient id="g72" gradientUnits="userSpaceOnUse" x1="745.1" y1="0" x2="895.7" y2="0"><stop offset="0.000" stop-color="#73008c"/><stop offset="0.119" stop-color="#660099"/><stop offset="0.237" stop-color="#61009e"/><stop offset="0.415" stop-color="#5900a6"/><stop offset="0.534" stop-color="#4d00b2"/><stop offset="0.617" stop-color="#4700b8"/><stop offset="0.652" stop-color="#4000bf"/><stop offset="0.664" stop-color="#4000bf"/><stop offset="0.682" stop-color="#4000bf"/><stop offset="0.735" stop-color="#4700b8"/><stop offset="0.830" stop-color="#4d00b2"/><stop offset="1.000" stop-color="#660099"/></linearGradient>
<linearGradient id="g73" gradientUnits="userSpaceOnUse" x1="895.7" y1="0" x2="1195.7" y2="0"><stop offset="0.000" stop-color="#0d00f2"/><stop offset="0.126" stop-color="#3300cc"/><stop offset="0.245" stop-color="#5900a6"/><stop offset="0.365" stop-color="#660099"/><stop offset="0.484" stop-color="#800080"/><stop offset="0.708" stop-color="#8c0073"/><stop offset="1.000" stop-color="#8c0073"/></linearGradient>
<linearGradient id="g74" gradientUnits="userSpaceOnUse" x1="895.7" y1="0" x2="1195.7" y2="0"><stop offset="0.000" stop-color="#0500fa"/><stop offset="0.245" stop-color="#0500fa"/><stop offset="0.365" stop-color="#0d00f2"/><stop offset="0.484" stop-color="#0d00f2"/><stop offset="0.603" stop-color="#0500fa"/><stop offset="0.708" stop-color="#0500fa"/><stop offset="1.000" stop-color="#0500fa"/></linearGradient>
<linearGradient id="g75" gradientUnits="userSpaceOnUse" x1="895.7" y1="0" x2="1195.7" y2="0"><stop offset="0.000" stop-color="#b2004c"/><stop offset="0.245" stop-color="#b2004c"/><stop offset="0.424" stop-color="#bf0040"/><stop offset="0.543" stop-color="#c70038"/><stop offset="0.708" stop-color="#c70038"/><stop offset="1.000" stop-color="#c70038"/></linearGradient>
<linearGradient id="g76" gradientUnits="userSpaceOnUse" x1="895.7" y1="0" x2="1195.7" y2="0"><stop offset="0.000" stop-color="#990066"/><stop offset="0.245" stop-color="#94006b"/><stop offset="0.335" stop-color="#800080"/><stop offset="0.424" stop-color="#660099"/><stop offset="0.543" stop-color="#660099"/><stop offset="0.708" stop-color="#73008c"/><stop offset="1.000" stop-color="#73008c"/></linearGradient>
<linearGradient id="g77" gradientUnits="userSpaceOnUse" x1="895.7" y1="0" x2="1195.7" y2="0"><stop offset="0.000" stop-color="#b2004c"/><stop offset="0.126" stop-color="#b80047"/><stop offset="0.245" stop-color="#c70038"/><stop offset="0.365" stop-color="#cc0033"/><stop offset="0.484" stop-color="#c70038"/><stop offset="0.543" stop-color="#b2004c"/><stop offset="0.662" stop-color="#8c0073"/><stop offset="0.708" stop-color="#8c0073"/><stop offset="1.000" stop-color="#8c0073"/></linearGradient>
<linearGradient id="g78" gradientUnits="userSpaceOnUse" x1="895.7" y1="0" x2="1406.7" y2="0"><stop offset="0.000" stop-color="#990066"/><stop offset="0.039" stop-color="#9e0061"/><stop offset="0.074" stop-color="#a60059"/><stop offset="0.109" stop-color="#b2004c"/><stop offset="0.144" stop-color="#b80047"/><stop offset="0.165" stop-color="#bf0040"/><stop offset="0.179" stop-color="#c70038"/><stop offset="0.197" stop-color="#c70038"/><stop offset="0.214" stop-color="#bf0040"/><stop offset="0.231" stop-color="#b80047"/><stop offset="0.249" stop-color="#b2004c"/><stop offset="0.259" stop-color="#ad0052"/><stop offset="0.266" stop-color="#ad0052"/><stop offset="0.270" stop-color="#ad0052"/><stop offset="0.271" stop-color="#ad0052"/><stop offset="0.278" stop-color="#ad0052"/><stop offset="0.293" stop-color="#ad0052"/><stop offset="0.313" stop-color="#ad0052"/><stop offset="0.337" stop-color="#ad0052"/><stop offset="0.362" stop-color="#ad0052"/><stop offset="0.386" stop-color="#ad0052"/><stop offset="0.411" stop-color="#ad0052"/><stop offset="0.416" stop-color="#ad0052"/><stop offset="0.587" stop-color="#ad0052"/><stop offset="0.656" stop-color="#ad0052"/><stop offset="0.730" stop-color="#ab0054"/><stop offset="0.803" stop-color="#a80057"/><stop offset="0.877" stop-color="#a60059"/><stop offset="0.950" stop-color="#a60059"/><stop offset="1.000" stop-color="#a60059"/></linearGradient>
<linearGradient id="g79" gradientUnits="userSpaceOnUse" x1="895.7" y1="0" x2="1195.7" y2="0"><stop offset="0.000" stop-color="#94006b"/><stop offset="0.096" stop-color="#94006b"/><stop offset="0.186" stop-color="#8c0073"/><stop offset="0.305" stop-color="#8c0073"/><stop offset="0.424" stop-color="#94006b"/><stop offset="0.543" stop-color="#a60059"/><stop offset="0.633" stop-color="#b80047"/><stop offset="0.708" stop-color="#bf0040"/><stop offset="1.000" stop-color="#bf0040"/></linearGradient>
<linearGradient id="g80" gradientUnits="userSpaceOnUse" x1="895.7" y1="0" x2="1195.7" y2="0"><stop offset="0.000" stop-color="#0000ff"/><stop offset="0.037" stop-color="#0000ff"/><stop offset="0.096" stop-color="#0000ff"/><stop offset="0.156" stop-color="#0d00f2"/><stop offset="0.216" stop-color="#2600d9"/><stop offset="0.275" stop-color="#3300cc"/><stop offset="0.335" stop-color="#3800c7"/><stop offset="0.382" stop-color="#4000bf"/><stop offset="0.424" stop-color="#4000bf"/><stop offset="0.484" stop-color="#4d00b2"/><stop offset="0.543" stop-color="#5900a6"/><stop offset="0.603" stop-color="#5900a6"/><stop offset="0.662" stop-color="#3300cc"/><stop offset="0.708" stop-color="#2600d9"/><stop offset="1.000" stop-color="#2600d9"/></linearGradient>
<linearGradient id="g81" gradientUnits="userSpaceOnUse" x1="895.7" y1="0" x2="1195.7" y2="0"><stop offset="0.000" stop-color="#0000ff"/><stop offset="0.067" stop-color="#0d00f2"/><stop offset="0.156" stop-color="#1900e6"/><stop offset="0.245" stop-color="#3300cc"/><stop offset="0.335" stop-color="#5900a6"/><stop offset="0.424" stop-color="#660099"/><stop offset="0.484" stop-color="#660099"/><stop offset="0.543" stop-color="#61009e"/><stop offset="0.603" stop-color="#4d00b2"/><stop offset="0.708" stop-color="#2600d9"/><stop offset="1.000" stop-color="#2600d9"/></linearGradient>
<linearGradient id="g82" gradientUnits="userSpaceOnUse" x1="895.7" y1="0" x2="1195.9" y2="0"><stop offset="0.000" stop-color="#660099"/><stop offset="0.096" stop-color="#5900a6"/><stop offset="0.156" stop-color="#4000bf"/><stop offset="0.198" stop-color="#2600d9"/><stop offset="0.218" stop-color="#1900e6"/><stop offset="0.227" stop-color="#0d00f2"/><stop offset="0.257" stop-color="#0000ff"/><stop offset="0.305" stop-color="#0000ff"/><stop offset="0.352" stop-color="#0000ff"/><stop offset="0.400" stop-color="#0d00f2"/><stop offset="0.436" stop-color="#2600d9"/><stop offset="0.451" stop-color="#4000bf"/><stop offset="0.460" stop-color="#4d00b2"/><stop offset="0.482" stop-color="#61009e"/><stop offset="0.532" stop-color="#6b0094"/><stop offset="0.599" stop-color="#73008c"/><stop offset="0.683" stop-color="#73008c"/><stop offset="0.708" stop-color="#73008c"/><stop offset="1.000" stop-color="#73008c"/></linearGradient>
<linearGradient id="g83" gradientUnits="userSpaceOnUse" x1="1195.7" y1="0" x2="1406.9" y2="0"><stop offset="0.000" stop-color="#cc0033"/><stop offset="0.169" stop-color="#c70038"/><stop offset="0.338" stop-color="#b80047"/><stop offset="0.508" stop-color="#a60059"/><stop offset="0.660" stop-color="#990066"/><stop offset="0.761" stop-color="#660099"/><stop offset="0.888" stop-color="#5900a6"/><stop offset="1.000" stop-color="#5900a6"/></linearGradient>
<linearGradient id="g84" gradientUnits="userSpaceOnUse" x1="1195.7" y1="0" x2="1406.9" y2="0"><stop offset="0.000" stop-color="#8c0073"/><stop offset="0.169" stop-color="#660099"/><stop offset="0.338" stop-color="#4d00b2"/><stop offset="0.508" stop-color="#2600d9"/><stop offset="0.660" stop-color="#0d00f2"/><stop offset="0.846" stop-color="#0500fa"/><stop offset="1.000" stop-color="#0500fa"/></linearGradient>
<linearGradient id="g85" gradientUnits="userSpaceOnUse" x1="1195.7" y1="0" x2="1406.9" y2="0"><stop offset="0.000" stop-color="#8c0073"/><stop offset="0.169" stop-color="#660099"/><stop offset="0.338" stop-color="#4d00b2"/><stop offset="0.508" stop-color="#3300cc"/><stop offset="0.592" stop-color="#3300cc"/><stop offset="0.761" stop-color="#2600d9"/><stop offset="0.888" stop-color="#1900e6"/><stop offset="1.000" stop-color="#0d00f2"/></linearGradient>
<linearGradient id="g86" gradientUnits="userSpaceOnUse" x1="1195.7" y1="0" x2="1320.8" y2="0"><stop offset="0.000" stop-color="#8c0073"/><stop offset="0.100" stop-color="#660099"/><stop offset="0.286" stop-color="#4d00b2"/><stop offset="0.571" stop-color="#4000bf"/><stop offset="0.800" stop-color="#3300cc"/><stop offset="1.000" stop-color="#1900e6"/></linearGradient>
<linearGradient id="g87" gradientUnits="userSpaceOnUse" x1="1195.7" y1="0" x2="1406.9" y2="0"><stop offset="0.000" stop-color="#0500fa"/><stop offset="0.127" stop-color="#0500fa"/><stop offset="0.254" stop-color="#0500fa"/><stop offset="0.381" stop-color="#0500fa"/><stop offset="0.508" stop-color="#0000ff"/><stop offset="0.635" stop-color="#0000ff"/><stop offset="0.761" stop-color="#0000ff"/><stop offset="0.888" stop-color="#0000ff"/><stop offset="1.000" stop-color="#0000ff"/></linearGradient>
<linearGradient id="g88" gradientUnits="userSpaceOnUse" x1="1195.7" y1="0" x2="1406.9" y2="0"><stop offset="0.000" stop-color="#73008c"/><stop offset="0.169" stop-color="#660099"/><stop offset="0.423" stop-color="#4700b8"/><stop offset="0.592" stop-color="#4700b8"/><stop offset="0.761" stop-color="#5900a6"/><stop offset="0.888" stop-color="#8c0073"/><stop offset="1.000" stop-color="#a60059"/></linearGradient>
<linearGradient id="g89" gradientUnits="userSpaceOnUse" x1="1195.7" y1="0" x2="1406.9" y2="0"><stop offset="0.000" stop-color="#c70038"/><stop offset="0.169" stop-color="#bf0040"/><stop offset="0.254" stop-color="#b2004c"/><stop offset="0.423" stop-color="#bf0040"/><stop offset="0.550" stop-color="#990066"/><stop offset="0.677" stop-color="#990066"/><stop offset="0.846" stop-color="#a60059"/><stop offset="1.000" stop-color="#a60059"/></linearGradient>
<linearGradient id="g90" gradientUnits="userSpaceOnUse" x1="1195.7" y1="0" x2="1406.9" y2="0"><stop offset="0.000" stop-color="#8c0073"/><stop offset="0.085" stop-color="#8c0073"/><stop offset="0.169" stop-color="#85007a"/><stop offset="0.254" stop-color="#800080"/><stop offset="0.338" stop-color="#800080"/><stop offset="0.423" stop-color="#990066"/><stop offset="0.508" stop-color="#c70038"/><stop offset="0.635" stop-color="#bf0040"/><stop offset="0.761" stop-color="#a60059"/><stop offset="0.888" stop-color="#990066"/><stop offset="1.000" stop-color="#94006b"/></linearGradient>
<linearGradient id="g91" gradientUnits="userSpaceOnUse" x1="1195.7" y1="0" x2="1406.9" y2="0"><stop offset="0.000" stop-color="#8c0073"/><stop offset="0.169" stop-color="#94006b"/><stop offset="0.338" stop-color="#a60059"/><stop offset="0.508" stop-color="#990066"/><stop offset="0.677" stop-color="#8c0073"/><stop offset="0.846" stop-color="#8c0073"/><stop offset="1.000" stop-color="#990066"/></linearGradient>
<linearGradient id="g92" gradientUnits="userSpaceOnUse" x1="1195.7" y1="0" x2="1406.9" y2="0"><stop offset="0.000" stop-color="#bf0040"/><stop offset="0.085" stop-color="#bf0040"/><stop offset="0.169" stop-color="#b2004c"/><stop offset="0.254" stop-color="#b2004c"/><stop offset="0.338" stop-color="#bf0040"/><stop offset="0.423" stop-color="#990066"/><stop offset="0.508" stop-color="#4d00b2"/><stop offset="0.592" stop-color="#4700b8"/><stop offset="0.677" stop-color="#4700b8"/><stop offset="0.804" stop-color="#4700b8"/><stop offset="0.931" stop-color="#660099"/><stop offset="1.000" stop-color="#800080"/></linearGradient>
<linearGradient id="g93" gradientUnits="userSpaceOnUse" x1="1195.7" y1="0" x2="1311.9" y2="0"><stop offset="0.000" stop-color="#bf0040"/><stop offset="0.231" stop-color="#990066"/><stop offset="0.385" stop-color="#4d00b2"/><stop offset="0.615" stop-color="#4700b8"/><stop offset="0.846" stop-color="#4700b8"/><stop offset="1.000" stop-color="#4700b8"/></linearGradient>
<linearGradient id="g94" gradientUnits="userSpaceOnUse" x1="1195.7" y1="0" x2="1406.9" y2="0"><stop offset="0.000" stop-color="#2600d9"/><stop offset="0.085" stop-color="#3300cc"/><stop offset="0.169" stop-color="#4000bf"/><stop offset="0.254" stop-color="#4700b8"/><stop offset="0.381" stop-color="#4d00b2"/><stop offset="0.508" stop-color="#4d00b2"/><stop offset="0.635" stop-color="#4700b8"/><stop offset="0.761" stop-color="#3300cc"/><stop offset="0.888" stop-color="#0d00f2"/><stop offset="1.000" stop-color="#0000ff"/></linearGradient>
<linearGradient id="g95" gradientUnits="userSpaceOnUse" x1="1195.7" y1="0" x2="1406.9" y2="0"><stop offset="0.000" stop-color="#3300cc"/><stop offset="0.127" stop-color="#4d00b2"/><stop offset="0.254" stop-color="#660099"/><stop offset="0.381" stop-color="#73008c"/><stop offset="0.508" stop-color="#73008c"/><stop offset="0.592" stop-color="#73008c"/><stop offset="0.677" stop-color="#73008c"/><stop offset="0.761" stop-color="#73008c"/><stop offset="0.812" stop-color="#73008c"/><stop offset="0.829" stop-color="#73008c"/><stop offset="0.842" stop-color="#73008c"/><stop offset="0.880" stop-color="#73008c"/><stop offset="0.931" stop-color="#6b0094"/><stop offset="1.000" stop-color="#660099"/></linearGradient>
<linearGradient id="g96" gradientUnits="userSpaceOnUse" x1="1195.7" y1="0" x2="1406.9" y2="0"><stop offset="0.000" stop-color="#1900e6"/><stop offset="0.169" stop-color="#0000ff"/><stop offset="0.338" stop-color="#0000ff"/><stop offset="0.508" stop-color="#0000ff"/><stop offset="0.635" stop-color="#0000ff"/><stop offset="0.685" stop-color="#0000ff"/><stop offset="0.698" stop-color="#0000ff"/><stop offset="0.711" stop-color="#0000ff"/><stop offset="0.761" stop-color="#0d00f2"/><stop offset="0.846" stop-color="#1900e6"/><stop offset="0.931" stop-color="#3300cc"/><stop offset="1.000" stop-color="#4d00b2"/></linearGradient>
<linearGradient id="g97" gradientUnits="userSpaceOnUse" x1="1195.9" y1="0" x2="1406.9" y2="0"><stop offset="0.000" stop-color="#73008c"/><stop offset="0.071" stop-color="#73008c"/><stop offset="0.131" stop-color="#7a0085"/><stop offset="0.166" stop-color="#800080"/><stop offset="0.184" stop-color="#800080"/><stop offset="0.190" stop-color="#800080"/><stop offset="0.198" stop-color="#800080"/><stop offset="0.228" stop-color="#800080"/><stop offset="0.279" stop-color="#800080"/><stop offset="0.338" stop-color="#800080"/><stop offset="0.406" stop-color="#85007a"/><stop offset="0.465" stop-color="#8c0073"/><stop offset="0.507" stop-color="#a60059"/><stop offset="0.550" stop-color="#b2004c"/><stop offset="0.634" stop-color="#a60059"/><stop offset="0.761" stop-color="#990066"/><stop offset="0.888" stop-color="#94006b"/><stop offset="1.000" stop-color="#94006b"/></linearGradient>
<linearGradient id="g98" gradientUnits="userSpaceOnUse" x1="1200.9" y1="0" x2="1356.5" y2="0"><stop offset="0.000" stop-color="#73008c"/><stop offset="0.093" stop-color="#73008c"/><stop offset="0.174" stop-color="#7a0085"/><stop offset="0.222" stop-color="#800080"/><stop offset="0.243" stop-color="#800080"/><stop offset="0.251" stop-color="#800080"/><stop offset="0.263" stop-color="#800080"/><stop offset="0.298" stop-color="#800080"/><stop offset="0.369" stop-color="#73008c"/><stop offset="0.449" stop-color="#660099"/><stop offset="0.518" stop-color="#5200ad"/><stop offset="0.598" stop-color="#4700b8"/><stop offset="0.690" stop-color="#61009e"/><stop offset="0.770" stop-color="#73008c"/><stop offset="0.885" stop-color="#73008c"/><stop offset="1.000" stop-color="#73008c"/></linearGradient>
<linearGradient id="g99" gradientUnits="userSpaceOnUse" x1="1407" y1="0" x2="1640.5" y2="0"><stop offset="0.000" stop-color="#ad0052"/><stop offset="0.157" stop-color="#b2004c"/><stop offset="0.310" stop-color="#bf0040"/><stop offset="0.463" stop-color="#c70038"/><stop offset="0.621" stop-color="#cc0033"/><stop offset="1.000" stop-color="#cc0033"/></linearGradient>
<linearGradient id="g100" gradientUnits="userSpaceOnUse" x1="1407" y1="0" x2="1640.5" y2="0"><stop offset="0.000" stop-color="#73008c"/><stop offset="0.142" stop-color="#4000bf"/><stop offset="0.310" stop-color="#1900e6"/><stop offset="0.463" stop-color="#4d00b2"/><stop offset="0.578" stop-color="#800080"/><stop offset="0.621" stop-color="#8c0073"/><stop offset="1.000" stop-color="#8c0073"/></linearGradient>
<linearGradient id="g101" gradientUnits="userSpaceOnUse" x1="1407" y1="0" x2="1640.5" y2="0"><stop offset="0.000" stop-color="#800080"/><stop offset="0.157" stop-color="#800080"/><stop offset="0.310" stop-color="#73008c"/><stop offset="0.463" stop-color="#73008c"/><stop offset="0.562" stop-color="#4d00b2"/><stop offset="0.621" stop-color="#0500fa"/><stop offset="1.000" stop-color="#0500fa"/></linearGradient>
<linearGradient id="g102" gradientUnits="userSpaceOnUse" x1="1407" y1="0" x2="1640.5" y2="0"><stop offset="0.000" stop-color="#b2004c"/><stop offset="0.157" stop-color="#990066"/><stop offset="0.310" stop-color="#800080"/><stop offset="0.425" stop-color="#990066"/><stop offset="0.539" stop-color="#800080"/><stop offset="0.621" stop-color="#73008c"/><stop offset="1.000" stop-color="#73008c"/></linearGradient>
<linearGradient id="g103" gradientUnits="userSpaceOnUse" x1="1407" y1="0" x2="1552.1" y2="0"><stop offset="0.000" stop-color="#4700b8"/><stop offset="0.376" stop-color="#3300cc"/><stop offset="0.560" stop-color="#660099"/><stop offset="0.708" stop-color="#1900e6"/><stop offset="0.930" stop-color="#0d00f2"/><stop offset="1.000" stop-color="#0500fa"/></linearGradient>
<linearGradient id="g104" gradientUnits="userSpaceOnUse" x1="1407" y1="0" x2="1640.5" y2="0"><stop offset="0.000" stop-color="#b2004c"/><stop offset="0.233" stop-color="#a60059"/><stop offset="0.463" stop-color="#990066"/><stop offset="0.578" stop-color="#b2004c"/><stop offset="0.621" stop-color="#c70038"/><stop offset="1.000" stop-color="#c70038"/></linearGradient>
<linearGradient id="g105" gradientUnits="userSpaceOnUse" x1="1407" y1="0" x2="1640.5" y2="0"><stop offset="0.000" stop-color="#4700b8"/><stop offset="0.080" stop-color="#4000bf"/><stop offset="0.180" stop-color="#3300cc"/><stop offset="0.249" stop-color="#2600d9"/><stop offset="0.295" stop-color="#1900e6"/><stop offset="0.348" stop-color="#0d00f2"/><stop offset="0.402" stop-color="#0d00f2"/><stop offset="0.463" stop-color="#1900e6"/><stop offset="0.524" stop-color="#660099"/><stop offset="0.621" stop-color="#8c0073"/><stop offset="1.000" stop-color="#8c0073"/></linearGradient>
<linearGradient id="g106" gradientUnits="userSpaceOnUse" x1="1407" y1="0" x2="1552.1" y2="0"><stop offset="0.000" stop-color="#990066"/><stop offset="0.129" stop-color="#990066"/><stop offset="0.252" stop-color="#990066"/><stop offset="0.376" stop-color="#9e0061"/><stop offset="0.486" stop-color="#bf0040"/><stop offset="0.622" stop-color="#a60059"/><stop offset="0.745" stop-color="#990066"/><stop offset="0.868" stop-color="#990066"/><stop offset="0.930" stop-color="#94006b"/><stop offset="1.000" stop-color="#8c0073"/></linearGradient>
<linearGradient id="g107" gradientUnits="userSpaceOnUse" x1="1474" y1="0" x2="1552" y2="0"><stop offset="0.000" stop-color="#b2004c"/><stop offset="0.115" stop-color="#8c0073"/><stop offset="0.183" stop-color="#800080"/><stop offset="0.298" stop-color="#800080"/><stop offset="0.481" stop-color="#800080"/><stop offset="0.596" stop-color="#800080"/><stop offset="0.646" stop-color="#800080"/><stop offset="0.655" stop-color="#800080"/><stop offset="0.659" stop-color="#800080"/><stop offset="0.668" stop-color="#800080"/><stop offset="0.707" stop-color="#800080"/><stop offset="0.785" stop-color="#800080"/><stop offset="0.882" stop-color="#800080"/><stop offset="1.000" stop-color="#800080"/></linearGradient>
<linearGradient id="g108" gradientUnits="userSpaceOnUse" x1="1407" y1="0" x2="1640.5" y2="0"><stop offset="0.000" stop-color="#bf0040"/><stop offset="0.096" stop-color="#990066"/><stop offset="0.233" stop-color="#8c0073"/><stop offset="0.348" stop-color="#800080"/><stop offset="0.425" stop-color="#73008c"/><stop offset="0.501" stop-color="#73008c"/><stop offset="0.578" stop-color="#6b0094"/><stop offset="0.621" stop-color="#61009e"/><stop offset="1.000" stop-color="#61009e"/></linearGradient>
<linearGradient id="g109" gradientUnits="userSpaceOnUse" x1="1407" y1="0" x2="1552.1" y2="0"><stop offset="0.000" stop-color="#4d00b2"/><stop offset="0.252" stop-color="#4700b8"/><stop offset="0.499" stop-color="#4700b8"/><stop offset="0.683" stop-color="#5900a6"/><stop offset="0.807" stop-color="#6b0094"/><stop offset="0.930" stop-color="#6b0094"/><stop offset="1.000" stop-color="#61009e"/></linearGradient>
<linearGradient id="g110" gradientUnits="userSpaceOnUse" x1="1407" y1="0" x2="1640.5" y2="0"><stop offset="0.000" stop-color="#cc0033"/><stop offset="0.187" stop-color="#c70038"/><stop offset="0.386" stop-color="#bf0040"/><stop offset="0.501" stop-color="#b2004c"/><stop offset="0.621" stop-color="#b2004c"/><stop offset="1.000" stop-color="#b2004c"/></linearGradient>
<linearGradient id="g111" gradientUnits="userSpaceOnUse" x1="1407" y1="0" x2="1640.5" y2="0"><stop offset="0.000" stop-color="#94006b"/><stop offset="0.080" stop-color="#94006b"/><stop offset="0.195" stop-color="#8c0073"/><stop offset="0.310" stop-color="#85007a"/><stop offset="0.425" stop-color="#800080"/><stop offset="0.539" stop-color="#800080"/><stop offset="0.621" stop-color="#73008c"/><stop offset="1.000" stop-color="#660099"/></linearGradient>
<linearGradient id="g112" gradientUnits="userSpaceOnUse" x1="1407" y1="0" x2="1475.8" y2="0"><stop offset="0.000" stop-color="#73008c"/><stop offset="0.221" stop-color="#73008c"/><stop offset="0.403" stop-color="#6b0094"/><stop offset="0.610" stop-color="#6b0094"/><stop offset="0.792" stop-color="#73008c"/><stop offset="0.922" stop-color="#800080"/><stop offset="1.000" stop-color="#990066"/></linearGradient>
<linearGradient id="g113" gradientUnits="userSpaceOnUse" x1="1407" y1="0" x2="1640.5" y2="0"><stop offset="0.000" stop-color="#660099"/><stop offset="0.065" stop-color="#5200ad"/><stop offset="0.111" stop-color="#4000bf"/><stop offset="0.130" stop-color="#3800c7"/><stop offset="0.138" stop-color="#3800c7"/><stop offset="0.164" stop-color="#3800c7"/><stop offset="0.218" stop-color="#4000bf"/><stop offset="0.295" stop-color="#3800c7"/><stop offset="0.386" stop-color="#1900e6"/><stop offset="0.463" stop-color="#0000ff"/><stop offset="0.539" stop-color="#0000ff"/><stop offset="0.621" stop-color="#0d00f2"/><stop offset="1.000" stop-color="#2600d9"/></linearGradient>
<linearGradient id="g114" gradientUnits="userSpaceOnUse" x1="1406.9" y1="0" x2="1641" y2="0"><stop offset="0.000" stop-color="#7a0085"/><stop offset="0.186" stop-color="#7a0085"/><stop offset="0.328" stop-color="#7a0085"/><stop offset="0.477" stop-color="#800080"/><stop offset="0.620" stop-color="#800080"/><stop offset="1.000" stop-color="#800080"/></linearGradient>
<linearGradient id="cb" x1="0" y1="0" x2="1" y2="0"><stop offset="0" stop-color="#d1002e"/><stop offset="1" stop-color="#0000ff"/></linearGradient></defs>
<g fill="none" stroke-linecap="butt" stroke-linejoin="round">
<path d="M377 339.6C401.3 339.6 425.7 339.7 450 339.8C471.7 339.9 493.3 340.1 515 340.1C536.7 340.1 558.3 340.1 580 340C598.7 340 617.3 339.9 636 339.7C657.3 339.5 678.7 338.4 700 337.8C715 337.4 730 336.6 745 336.6C763.3 336.6 781.7 337.7 800 338.4C816.7 339.1 833.3 340.5 850 341C865.3 341.5 880.7 342 896 342C917.3 342 938.7 341 960 340.5C981.7 340 1003.3 338.7 1025 338.7C1052.7 338.7 1080.3 339.7 1108 339.7C1137.3 339.7 1166.7 339.7 1196 339.7C1214 339.7 1232 339 1250 338.6C1264.7 338.3 1279.3 337.6 1294 337.6C1312.7 337.6 1331.3 338.6 1350 339C1369 339.4 1387.9 339.8 1406.9 340.1" stroke="#cf0030" stroke-width="4.6"/>
<path d="M377 342.9C401.3 343.1 425.7 343.3 450 343.4C471.7 343.5 493.3 343.5 515 343.5C536.7 343.5 558.3 342.6 580 342C598.7 341.5 617.3 340.1 636 339.9C657.3 339.6 678.7 339.5 700 339.4C715 339.3 730 339.2 745 339.2C763.3 339.2 781.7 340 800 340.5C816.7 340.9 833.3 341.8 850 342C865.3 342.2 880.7 342.4 896 342.4C917.3 342.4 938.7 341.5 960 341C981.7 340.4 1003.3 339 1025 339C1052.7 339 1080.3 339.9 1108 339.9C1137.3 339.9 1166.7 339.9 1196 339.9C1214 339.9 1232 340.2 1250 340.4C1264.7 340.6 1279.3 340.8 1294 341C1312.7 341.3 1331.3 341.6 1350 341.8C1369 342 1387.9 342.1 1406.9 342.2" stroke="#cf0030" stroke-width="4.6"/>
<path d="M1406.9 340.1C1421.3 340 1435.6 339.9 1450 339.8C1463.3 339.8 1476.7 339.7 1490 339.7C1500 339.7 1510 339.8 1520 339.8C1530.7 339.8 1541.3 339.9 1552 339.9C1581.5 339.9 1611 339.9 1640.5 339.9" stroke="#cf0030" stroke-width="4.6"/>
<path d="M1406.9 343.9C1421.3 343.7 1435.6 343.2 1450 342.6C1463.3 342.1 1476.7 340.4 1490 340.2C1500 340.1 1510 340 1520 340C1530.7 340 1541.3 340 1552 340C1581.5 340 1611 340 1640.5 340" stroke="#cf0030" stroke-width="4.6"/>
<path d="M377 526.3C396.3 527.5 415.7 529 435 530.5C443.3 531.2 451.7 532 460 532.6C478.3 533.8 496.7 535 515 535.6C523.3 535.9 531.7 535.8 540 536.2C546.7 536.5 553.3 537.8 560 539C568.7 540.5 577.3 543.4 586 545.6C594.7 547.8 603.3 550.2 612 552.5C619.3 554.4 626.7 556.5 634 558.2C634.8 558.4 635.5 558.7 636.3 558.7C654.2 559.7 672.1 559.5 690 560C708.3 560.5 726.7 561.8 745 561.8C746 561.8 747 561.5 748 561.3C755.3 559.8 762.7 556.4 770 554C783.7 549.5 797.3 544.3 811 540.6C827.7 536.1 844.3 531.5 861 529.3C872.7 527.8 884.3 526 896 526C904 526 912 527 920 528C927.7 528.9 935.3 531.2 943 533C959.7 537 976.3 543.5 993 546.9C1002 548.8 1011 551 1020 551.5C1023.3 551.7 1026.7 551.9 1030 551.9C1038.3 551.9 1046.7 549.2 1055 548C1067.7 546.2 1080.3 543.7 1093 543.1C1098 542.9 1103 542.6 1108 542.6C1149 542.6 1190 542.6 1231 542.6C1247.7 542.6 1264.3 541.3 1281 540C1297.7 538.7 1314.3 535 1331 533C1347.7 531 1364.3 528.9 1381 527.6C1389.6 526.9 1398.3 526.4 1406.9 526" stroke="url(#g1)" stroke-width="4.6"/>
<path d="M1406.9 535.5C1417.9 535.7 1429 536.3 1440 537C1449.3 537.6 1458.7 538.8 1468 539.5C1482.7 540.7 1497.3 542.3 1512 542.6C1525.3 542.8 1538.7 543 1552 543C1581.5 543 1611 543 1640.5 543" stroke="url(#g2)" stroke-width="4.6"/>
<path d="M377 586.2C388 586.2 399 585.6 410 585C418.3 584.5 426.7 583.1 435 582C446.7 580.5 458.3 578.3 470 577C483.3 575.5 496.7 573.9 510 573.2C520 572.6 530 572.3 540 572C547 571.8 554 571.7 561 571.4C573.3 570.9 585.7 568.9 598 567C605.3 565.9 612.7 563.9 620 562.5C625.4 561.4 630.9 560.4 636.3 559.4" stroke="url(#g3)" stroke-width="4.6"/>
<path d="M636.3 560.4C654.2 560.7 672.1 561.1 690 561.5C708.3 561.9 726.7 562.4 745 563" stroke="#c70038" stroke-width="4.6"/>
<path d="M745 562C751.7 563.5 758.3 565.2 765 567C772 568.9 779 571.5 786 573.2C802.7 577.2 819.3 581 836 582.7C852.7 584.4 869.3 586 886 586.2C889.3 586.2 892.7 586.3 896 586.3C903.3 586.3 910.7 585.7 918 585.2C930.3 584.3 942.7 581.9 955 579.5C967.7 577 980.3 572.7 993 569.4C1005.3 566.2 1017.7 560.2 1030 560.2C1036.7 560.2 1043.3 560.4 1050 560.5C1060.3 560.7 1070.7 561.8 1081 562C1090 562.2 1099 562.4 1108 562.4C1140.7 562.4 1173.3 562.4 1206 562.4C1222.7 562.4 1239.3 564.9 1256 567C1272.7 569.1 1289.3 574.3 1306 577C1322.7 579.7 1339.3 582.5 1356 583.7C1373 584.9 1389.9 586.1 1406.9 586.2" stroke="url(#g4)" stroke-width="4.6"/>
<path d="M1406.9 572.5C1417.9 572.5 1429 572 1440 571.5C1449.3 571.1 1458.7 569.9 1468 569C1482.7 567.5 1497.3 564.6 1512 563.7C1525.3 562.9 1538.7 562 1552 562C1581.5 562 1611 562 1640.5 562" stroke="url(#g5)" stroke-width="4.6"/>
<path d="M377 608.8C401.3 609.5 425.7 610.3 450 611C474.3 611.7 498.7 613.3 523 613.3C560.7 613.3 598.3 612.6 636 612C673 611.4 710 609.8 747 609.5C796.7 609.1 846.3 608.8 896 608.8C940.7 608.8 985.3 610 1030 610.8C1063.7 611.4 1097.3 612.8 1131 612.8C1156 612.8 1181 612.7 1206 612.5C1237.3 612.3 1268.7 611.1 1300 610.5C1335.6 609.8 1371.3 609.3 1406.9 608.8" stroke="url(#g6)" stroke-width="4.6"/>
<path d="M1406.9 613.2C1434.6 612.4 1462.3 612 1490 612C1510.7 612 1531.3 612.5 1552 612.5C1581.5 612.5 1611 612.5 1640.5 612.5" stroke="url(#g7)" stroke-width="4.6"/>
<path d="M377.2 709.2C385.2 709.4 393.2 710 401.2 710.6C410.4 711.4 419.6 713.3 428.7 714.7C442.5 716.9 456.2 721 470 721.9C479.2 722.5 488.3 723 497.5 723C508.6 723 519.8 723 530.9 723C547.3 723 563.6 722.6 580 722.3C598.7 722 617.5 721.1 636.2 721.1C655.9 721.1 675.5 721.1 695.2 721.1C711.9 721.1 728.6 721.3 745.3 721.3C770.4 721.3 795.5 719.8 820.6 718.8C837.3 718.2 854 717.2 870.7 716.3C879 715.9 887.4 715.5 895.8 715.1" stroke="url(#g8)" stroke-width="4.6"/>
<path d="M377.2 719.1C394.4 719 411.6 718.9 428.7 718.9C442.5 718.9 456.2 718.9 470 718.9C490.3 718.9 510.6 719.4 530.9 719.6C566 719.9 601.1 720.3 636.2 720.5C655.9 720.7 675.5 720.7 695.2 720.8C711.9 721 728.6 721.6 745.3 721.6C770.4 721.6 795.5 721 820.6 720.6C837.3 720.3 854 719.8 870.7 719.6C879 719.5 887.4 719.4 895.8 719.3" stroke="url(#g9)" stroke-width="4.6"/>
<path d="M377.2 726.4C394.4 726.9 411.6 727.7 428.7 728.5C442.5 729.2 456.2 730.5 470 731C490.3 731.7 510.6 732.2 530.9 732.3C566 732.7 601.1 732.9 636.2 732.9C655.9 732.9 675.5 732.4 695.2 732.1C711.9 731.9 728.6 731.7 745.3 731.4C770.4 730.8 795.5 728.9 820.6 728.1C845.6 727.3 870.7 726.7 895.8 726.3" stroke="url(#g10)" stroke-width="4.6"/>
<path d="M377.2 752.3C394.4 752.7 411.6 753.3 428.7 753.9C442.5 754.4 456.2 755.7 470 755.7C479.2 755.7 488.3 755.5 497.5 755.3C508.6 755.1 519.8 754.6 530.9 754.6C540.4 754.6 549.9 756 559.4 757.4C570.8 759 582.3 764.3 593.7 768.4C602.9 771.6 612.1 776.9 621.2 779.4C625.8 780.6 630.4 782.4 635 782.4C635.4 782.4 635.9 782.3 636.3 782.3C655.9 782.3 675.6 784.2 695.2 785.3C711.8 786.2 728.3 788.3 744.8 788.3C750 788.3 755.2 787.4 760.4 786.5C772.1 784.5 783.8 774.8 795.5 770.2C808 765.3 820.6 760.5 833.1 757.7C845.6 754.9 858.2 752.6 870.7 751.4C879 750.6 887.4 749.9 895.8 749.7" stroke="url(#g11)" stroke-width="4.6"/>
<path d="M895.8 718.8C929.2 719.1 962.6 719.8 996 720.6C1033.3 721.5 1070.6 724.6 1107.8 724.6C1137.1 724.6 1166.5 724.6 1195.8 724.6C1222.3 724.6 1248.9 723.7 1275.5 722.6C1292.2 721.9 1308.9 719.6 1325.6 717.6C1338.2 716.1 1350.7 713.1 1363.2 712.1C1377.8 710.8 1392.3 709.7 1406.8 709.6" stroke="url(#g12)" stroke-width="4.6"/>
<path d="M895.8 719.6C929.2 720.1 962.6 720.8 996 721.6C1033.3 722.5 1070.6 725.1 1107.8 725.1C1137.1 725.1 1166.5 725.1 1195.8 725.1C1222.3 725.1 1248.9 724.4 1275.5 723.8C1292.2 723.5 1308.9 722.6 1325.6 722.1C1352.7 721.2 1379.8 720.3 1406.8 719.6" stroke="url(#g13)" stroke-width="4.6"/>
<path d="M895.8 726.3C929.2 727.8 962.6 729.1 996 730.1C1033.3 731.3 1070.6 733.1 1107.8 733.1C1137.1 733.1 1166.5 733.1 1195.8 733.1C1222.3 733.1 1248.9 731.5 1275.5 730.6C1292.2 730.1 1308.9 729.4 1325.6 728.9C1352.7 728 1379.8 727.1 1406.8 726.3" stroke="url(#g14)" stroke-width="4.6"/>
<path d="M895.8 747.2C904.1 747.2 912.5 748.4 920.8 749.7C929.2 750.9 937.5 754.4 945.9 757.7C954.3 760.9 962.6 766.2 971 770.2C977.7 773.5 984.3 777.9 991 779.7C995.2 780.9 999.4 782.3 1003.6 782.3C1009.4 782.3 1015.3 779.7 1021.1 777.7C1029.5 775 1037.8 768.6 1046.2 765.2C1054.5 761.8 1062.9 758.2 1071.2 756.4C1079.6 754.7 1088 753.2 1096.3 752.7C1100.2 752.4 1104 752.2 1107.8 752.2C1137.1 752.2 1166.5 752.3 1195.8 752.7C1209.8 752.8 1223.8 754 1237.9 754.7C1254.6 755.5 1271.3 756.9 1288 756.9C1300.6 756.9 1313.1 756.1 1325.6 755.7C1352.7 754.7 1379.8 753.5 1406.8 752.2" stroke="url(#g15)" stroke-width="4.6"/>
<path d="M895.8 807.3C912.5 805.3 929.2 803.8 945.9 803.3C954.3 803.1 962.6 802.8 971 802.8C979.3 802.8 987.7 804.3 996 805.3C1008.6 806.8 1021.1 809.9 1033.6 810.8C1042.8 811.5 1052 812.3 1061.2 812.3C1076.8 812.3 1092.3 812.3 1107.8 812.3C1137.1 812.3 1166.5 811.6 1195.8 811.6C1209.8 811.6 1223.8 812.8 1237.9 814.1C1250.4 815.2 1262.9 818.3 1275.5 820.4C1288 822.4 1300.6 825.1 1313.1 826.6C1322.3 827.8 1331.5 828.7 1340.7 829.4" stroke="url(#g16)" stroke-width="4.6"/>
<path d="M1406.8 719.6C1421.6 720.2 1436.3 720.9 1451 721.6C1467.7 722.4 1484.4 724.2 1501.1 724.3C1518.1 724.5 1535 724.6 1552 724.6C1581.2 724.6 1610.5 724.6 1639.7 724.6" stroke="#94006b" stroke-width="4.6"/>
<path d="M1406.8 722.1C1421.6 722.3 1436.3 722.7 1451 723.1C1467.7 723.5 1484.4 724.7 1501.1 724.8C1518.1 725 1535 725.1 1552 725.1C1581.2 725.1 1610.5 725.1 1639.7 725.1" stroke="#94006b" stroke-width="4.6"/>
<path d="M1406.8 732.1C1455.2 732.7 1503.6 733.1 1552 733.1C1581.2 733.1 1610.5 733.1 1639.7 733.1" stroke="#94006b" stroke-width="4.6"/>
<path d="M1406.8 755.7C1429.9 755.7 1453 755.7 1476 755.7C1492.7 755.7 1509.5 753.6 1526.2 753.2C1534.8 752.9 1543.4 752.7 1552 752.7C1581.2 752.7 1610.5 752.7 1639.7 752.7" stroke="#94006b" stroke-width="4.6"/>
<path d="M1406.8 822.9C1421.6 822.9 1436.3 822.3 1451 821.6C1463.5 821 1476 818.1 1488.6 816.6C1501.1 815.1 1513.6 812.9 1526.2 812.3C1534.8 812 1543.4 811.6 1552 811.6C1581.2 811.6 1610.5 811.6 1639.7 811.6" stroke="url(#g17)" stroke-width="4.6"/>
<path d="M377.2 831.3C385 831.1 392.7 830.8 400.4 830.4C408.1 830 415.7 829.4 423.3 829C434.7 828.5 446.1 827.9 457.5 827.9C465.1 827.9 472.7 828 480.4 828.3C486.7 828.5 493 830.6 499.4 831.3C505.7 832 512.1 832.8 518.4 832.8C522.6 832.8 526.8 832.8 531 832.7" stroke="url(#g18)" stroke-width="4.6"/>
<path d="M377.2 848.8C385 847.6 392.7 845.9 400.4 843.9C406.8 842.2 413.1 839.6 419.5 837.8C425.8 836 432.2 834.4 438.5 832.8C444.8 831.2 451.2 829.5 457.5 828.3C466.4 826.6 475.3 824.9 484.2 824.1C491.8 823.4 499.4 822.7 507 822.6C515 822.4 523 822.3 531 822.3" stroke="url(#g19)" stroke-width="4.6"/>
<path d="M377.2 831.7C390 831.7 402.9 832.2 415.7 832.8C423.3 833.2 430.9 834.7 438.5 835.9C446.1 837.1 453.7 838.8 461.3 840.1C466.4 840.9 471.5 841.6 476.5 842.3C481.1 843 485.7 843.7 490.2 844.2C495.8 844.9 501.4 845.6 507 846.1C512.1 846.6 517.1 846.9 522.2 847.3C525.1 847.5 528.1 847.7 531 847.9" stroke="url(#g20)" stroke-width="4.6"/>
<path d="M377.2 841.2C385 841.2 392.7 841.8 400.4 842.3C408.1 842.9 415.7 844.9 423.3 845.8C428.3 846.4 433.4 847.3 438.5 847.3C443.6 847.3 448.6 846 453.7 845C458.8 844.1 463.9 842.3 468.9 841.2C474 840.1 479.1 839.2 484.2 838.2C490.5 836.8 496.8 834.4 503.2 833.7C507 833.4 510.8 833.1 514.6 833C520.1 832.8 525.6 832.6 531 832.5" stroke="url(#g21)" stroke-width="4.6"/>
<path d="M377.2 853C385 853 392.7 853 400.4 853C408.1 853 415.7 851.3 423.3 850.3C430.9 849.4 438.5 848.2 446.1 847.3C453.7 846.3 461.3 845.2 468.9 844.6C476 844.1 483.1 844 490.2 843.5C498.4 842.9 506.5 840.7 514.6 840.1C520.1 839.6 525.6 839.2 531 839.1" stroke="url(#g22)" stroke-width="4.6"/>
<path d="M377.2 855.7C387.5 855.7 397.8 855.6 408.1 855.5C418.2 855.4 428.3 853.5 438.5 852.2C446.1 851.3 453.7 850 461.3 848.8C468.9 847.6 476.5 846.4 484.2 845.2C486.2 844.8 488.2 844.5 490.2 844.1" stroke="url(#g23)" stroke-width="4.6"/>
<path d="M377.2 854.9C385 855.8 392.7 856.8 400.4 857.9C410.6 859.5 420.7 861.9 430.9 863.3C431.9 863.4 432.9 863.6 433.9 863.7C440.5 864.3 447.1 864.3 453.7 864.9C461.3 865.6 468.9 867.3 476.5 868.6C480.1 869.2 483.6 870.1 487.2 870.5C491.3 871 495.3 871.2 499.4 871.6C501.9 871.9 504.4 872.4 507 872.6C515 872.9 523 873.2 531 873.2" stroke="url(#g24)" stroke-width="4.6"/>
<path d="M377.2 855.7C382.4 856.4 387.6 857.5 392.8 858.7C397.9 859.9 403 861.9 408.1 863.3C418.2 866.1 428.3 868.6 438.5 870.9C446.1 872.6 453.7 874 461.3 875.4C468.9 876.9 476.5 878.4 484.2 879.6C491.8 880.9 499.4 882 507 883.1C512.1 883.7 517.1 884.7 522.2 885C525.1 885.1 528.1 885.3 531 885.3" stroke="url(#g25)" stroke-width="4.6"/>
<path d="M377.2 854.5C382.4 855.3 387.6 856.4 392.8 857.6C397.9 858.7 403 860.4 408.1 861.8C418.2 864.4 428.3 867.1 438.5 869.4C446.1 871 453.7 872.5 461.3 873.9C468.9 875.4 476.5 876.8 484.2 878.1C491.8 879.4 499.4 880.7 507 881.9C512.1 882.7 517.1 883.7 522.2 884.2C525.1 884.5 528.1 884.8 531 885" stroke="url(#g26)" stroke-width="4.6"/>
<path d="M487.2 870.5C492.5 871.4 497.9 872.9 503.2 874.7C507 875.9 510.8 878.2 514.6 879.6C517.1 880.6 519.7 882.1 522.2 882.1C525.1 882.2 528.1 882.3 531 882.3" stroke="url(#g27)" stroke-width="4.6"/>
<path d="M377.2 862.5C385 862.5 392.7 862.7 400.4 862.9C406.8 863.1 413.1 864.6 419.5 865.2C425.8 865.8 432.2 866.5 438.5 866.7C443.6 866.9 448.6 866.9 453.7 867.1C458.8 867.3 463.9 867.7 468.9 868.2C475 868.8 481.1 869.8 487.2 870.9" stroke="url(#g28)" stroke-width="4.6"/>
<path d="M377.2 906.7C385 906.2 392.7 905.9 400.4 905.9C405.5 905.9 410.6 905.9 415.7 906C420.7 906.1 425.8 907.4 430.9 908.2C435.4 908.8 440 910.3 444.6 910.3C447.6 910.3 450.7 909.3 453.7 908.2C456.3 907.3 458.8 904.8 461.3 902.8C466.4 899 471.5 894.6 476.5 889.9C479.1 887.6 481.6 884.4 484.2 882.3C486.7 880.2 489.2 878.6 491.8 877C495.6 874.5 499.4 872.3 503.2 870.1C507 868 510.8 865.6 514.6 864C518.4 862.5 522.2 860.9 526 860.4C527.7 860.1 529.4 859.9 531 859.8" stroke="url(#g29)" stroke-width="4.6"/>
<path d="M377.2 1001.6C380.6 997 384.1 992.4 387.5 987.9C392.1 981.8 396.7 975.7 401.2 970C405.8 964.3 410.4 958.8 415 953.5C419.6 948.2 424.2 942.8 428.7 938.4C432.4 934.8 436.1 929.9 439.7 928.7C443.4 927.6 447.1 926.7 450.7 926.7C454.4 926.7 458.1 929.2 461.7 931.5C465 933.5 468.2 938.1 471.4 942.5C474.1 946.2 476.9 951.2 479.6 956.2C482.4 961.2 485.1 965.4 487.9 972.7C489.5 977 491.1 981.3 492.7 990.6C493.1 993.3 493.6 999.1 494.1 1003.7C494.5 1008.3 495 1016 495.4 1018.1C497 1025.6 498.6 1027.7 500.2 1030.5C503.9 1037 507.6 1041 511.2 1044.2C514.9 1047.5 518.6 1050.7 522.2 1051.8C526.4 1053 530.5 1054.1 534.6 1054.1C540.6 1054.1 546.5 1053 552.5 1051.8C559.4 1050.4 566.2 1046.8 573.1 1042.9C577.7 1040.2 582.3 1036.6 586.9 1031.9C590.1 1028.5 593.3 1024.5 596.5 1018.1C597.6 1015.8 598.8 1013.6 599.9 1008.5C600.4 1006.5 600.8 999.7 601.3 997.5C602 994.2 602.7 992.1 603.4 990.6C604.7 987.7 606.1 986.1 607.5 984.4C609.8 981.6 612.1 979.6 614.4 977.6C617.6 974.7 620.8 972.1 624 970C628.1 967.4 632.1 965 636.2 963.4" stroke="url(#g30)" stroke-width="4.6"/>
<path d="M377.2 926.7C389.8 925.4 402.4 924.6 415 924.6C424.2 924.6 433.3 924.9 442.5 925.3C449.4 925.6 456.2 927.3 463.1 928.7C470 930.2 476.9 932.4 483.7 934.2C490.6 936.1 497.5 938.3 504.4 939.7C511.2 941.2 518.1 943.2 525 943.2C531.9 943.2 538.7 942.9 545.6 942.5C552.5 942.1 559.4 940.6 566.2 939.1C573.1 937.5 580 934.5 586.9 931.5C593.7 928.5 600.6 924 607.5 920.5C612.1 918.1 616.7 915.6 621.2 913.6C626.2 911.4 631.2 909.4 636.2 907.7" stroke="url(#g31)" stroke-width="4.6"/>
<path d="M377.2 1027.7C380.6 1027.7 384.1 1026.7 387.5 1025.7C390.2 1024.8 393 1023.1 395.7 1020.9C398 1019.1 400.3 1016.9 402.6 1012.6C403.5 1010.9 404.5 1007.8 405.4 1003.7C405.8 1001.6 406.3 996.6 406.7 994.7C408.1 989.2 409.5 986.1 410.9 983.7C413.6 979.1 416.4 977.3 419.1 974.1C422.3 970.4 425.5 966.6 428.7 963.1C433.3 958.2 437.9 953.7 442.5 949.4C447.1 945 451.7 940.9 456.2 937C460.8 933.1 465.4 929.7 470 926C474.6 922.3 479.2 918.3 483.7 915C488.3 911.7 492.9 908.8 497.5 906.1C502.1 903.3 506.7 900.8 511.2 898.5C515.8 896.2 520.4 893.2 525 892.3C527.3 891.8 529.6 891.3 531.9 891.3C538.7 891.3 545.6 892.3 552.5 893C561.7 893.9 570.8 895.7 580 897.1C589.2 898.5 598.3 899.9 607.5 901.2C617.1 902.7 626.6 904 636.2 905.4" stroke="url(#g32)" stroke-width="4.6"/>
<path d="M377.2 1001.6C382.9 997.8 388.6 994.1 394.4 990.6C402.2 985.8 410 981.1 417.7 976.9C426 972.4 434.2 967.9 442.5 964.5C451.7 960.7 460.8 957.6 470 954.9C476.9 952.8 483.7 950.4 490.6 949.4C497.5 948.4 504.4 947.7 511.2 947.3C517.8 947 524.4 946.9 530.9 946.6C538.1 946.3 545.3 946 552.5 945.2C558 944.7 563.5 942.8 569 941.1C575 939.3 580.9 936.6 586.9 934C593.7 930.9 600.6 927.2 607.5 923.5C612.1 921.1 616.7 918.1 621.2 915.7C626.2 913.1 631.2 910.6 636.2 908.4" stroke="url(#g33)" stroke-width="4.6"/>
<path d="M377.2 1001.6C380.6 1002.3 384.1 1003 387.5 1003C392.1 1003 396.7 1003 401.2 1003C410.4 1003 419.6 1000.1 428.7 998.2C437.9 996.2 447.1 993.4 456.2 990.6C465.4 987.8 474.6 984.1 483.7 981C490.6 978.7 497.5 975.6 504.4 974.1C511.2 972.6 518.1 971.1 525 970.7C531.9 970.3 538.7 970.4 545.6 970C552.5 969.6 559.4 967.4 566.2 965.9C573.1 964.4 580 962.2 586.9 961.1C593.7 959.9 600.6 958.3 607.5 958.3C612.1 958.3 616.7 958.6 621.2 959C625.4 959.4 629.5 961.1 633.6 962.4C634.5 962.7 635.4 963.1 636.2 963.4" stroke="url(#g34)" stroke-width="4.6"/>
<path d="M377.2 1027.7C385.2 1028.6 393.2 1029.3 401.2 1029.8C410.4 1030.4 419.6 1031.2 428.7 1031.2C442.5 1031.2 456.2 1030.4 470 1029.8C479.2 1029.4 488.3 1028.5 497.5 1028C508.6 1027.5 519.8 1027.6 530.9 1026.6C534 1026.4 537 1025.3 540.1 1023.6C542 1022.6 543.8 1020.2 545.6 1016.7C546.8 1014.6 547.9 1011.7 549.1 1005.7C549.5 1003.3 550 994.1 550.4 992C552 984.6 553.6 982.7 555.2 979.6C558 974.3 560.7 970.8 563.5 967.2C567.2 962.5 570.8 958.8 574.5 954.9C578.6 950.5 582.7 946.2 586.9 942.5C591.4 938.4 596 935.2 600.6 931.5C605.2 927.8 609.8 923.5 614.4 920.5C618.9 917.5 623.5 915.3 628.1 912.9C630.8 911.5 633.5 910.1 636.2 908.8" stroke="url(#g35)" stroke-width="4.6"/>
<path d="M377.2 1144.1C386.6 1144.2 396 1145.2 405.4 1146.3C415.4 1147.5 425.5 1151.2 435.6 1153.1C445.7 1155.1 455.8 1157.3 465.9 1158.4C475.9 1159.6 486 1160.8 496.1 1161C507.7 1161.3 519.4 1161.5 531 1161.5C534.5 1161.5 538 1160.4 541.5 1159.2C545 1158 548.5 1154.5 552 1150.9C555.6 1147.3 559.1 1141.4 562.6 1135.8C565.7 1130.9 568.7 1125.4 571.7 1119.1C574.2 1113.9 576.7 1107.7 579.3 1101C581.8 1094.3 584.3 1087.4 586.8 1078.3C588.3 1072.8 589.9 1066.3 591.4 1058.6C592.4 1053.5 593.4 1047.6 594.4 1040.5C595 1036.2 595.6 1032.3 596.2 1025.4C596.5 1021.9 596.8 1016.4 597.1 1010.2C597.3 1006.2 597.5 999.2 597.7 995.1C598 989 598.3 983.1 598.6 980C599.1 975.2 599.5 973.4 600 970C601.2 961.3 602.3 949.8 603.5 943C604.7 936.2 605.8 931.1 607 926.5C608.4 920.9 609.9 916.1 611.3 912.2C612.4 909.2 613.5 906.6 614.6 904.5C615.7 902.4 616.8 899.9 617.9 899C619 898.1 620.1 897.3 621.2 897.3C622.3 897.3 623.4 898.5 624.5 899C626.3 899.8 628.2 900.3 630 901C632.1 901.8 634.2 902.6 636.3 903.4" stroke="url(#g36)" stroke-width="4.6"/>
<path d="M531 822.5C549.3 822.5 567.7 822.5 586 822.5C597 822.5 608 824.6 619 825.8C624.7 826.5 630.5 827.9 636.3 828C652.5 828.6 668.7 828.7 685 828.8C705 829 725 829.1 745 829.1" stroke="url(#g37)" stroke-width="4.6"/>
<path d="M531 832.4C549.3 831.5 567.7 830.7 586 830.2C600.7 829.9 615.3 829.5 630 829.5C632.1 829.5 634.2 829.6 636.3 829.7C645.2 830.1 654.1 831 663 831.9C674 833 685 834.3 696 836.3C703.3 837.6 710.6 840.4 718 841.8C725.3 843.2 732.6 844.7 740 845.1C741.7 845.2 743.3 845.3 745 845.3" stroke="url(#g38)" stroke-width="4.6"/>
<path d="M636.3 829.5C645.2 829.7 654.1 830.2 663 830.8C674 831.5 685 833.7 696 834.1C712.3 834.7 728.7 835.2 745 835.2" stroke="url(#g39)" stroke-width="4.6"/>
<path d="M531 839C545.7 839 560.3 838.2 575 837.4C586 836.8 597 835 608 833.5C615.3 832.6 622.7 831.4 630 830.2C632.1 829.9 634.2 829.5 636.3 829.1" stroke="url(#g40)" stroke-width="4.6"/>
<path d="M531 847.3C538.3 847.3 545.7 848.4 553 849.5C560.3 850.6 567.7 853.5 575 856.1C582.3 858.7 589.7 862.6 597 866C602.5 868.5 608 871.3 613.5 873.7C617.2 875.3 620.8 877.8 624.5 878.3C628.4 878.8 632.3 879.2 636.3 879.2C652.5 879.2 668.7 879 685 878.6C696 878.4 707 877.4 718 877C727 876.6 736 876.3 745 876.1" stroke="url(#g41)" stroke-width="4.6"/>
<path d="M531 859.9C549.3 859.9 567.7 859.9 586 859.9C600.7 859.9 615.3 861.6 630 862.1C632.1 862.2 634.2 862.4 636.3 862.4C648.8 862.4 661.4 861.6 674 861.6C681.3 861.6 688.6 862.7 696 863.2C703.3 863.8 710.6 864.4 718 864.9C727 865.5 736 866.1 745 866.5" stroke="url(#g42)" stroke-width="4.6"/>
<path d="M636.3 862.9C648.8 862.9 661.4 863.5 674 864.3C681.3 864.8 688.6 867.7 696 869.3C701.5 870.5 707 872.6 712.5 872.6C718 872.6 723.5 871.9 729 871.5C734.3 871.1 739.7 870.5 745 869.8" stroke="url(#g43)" stroke-width="4.6"/>
<path d="M564 851.7C568.4 852.8 572.8 853.3 577.2 853.3C583.8 853.3 590.4 851 597 850C602.5 849.2 608 847.8 613.5 847.8C619 847.8 624.5 849.7 630 850C632.1 850.2 634.2 850.4 636.3 850.4C645.2 850.4 654.1 849.5 663 849.5C670.3 849.5 677.6 849.5 685 849.5C692.3 849.5 699.6 850.6 707 851.7C714.3 852.7 721.6 855.6 729 857.2C734.3 858.3 739.7 859.4 745 860.3" stroke="url(#g44)" stroke-width="4.6"/>
<path d="M531 872.6C543.8 872.6 556.7 872.8 569.5 873.1C578.7 873.4 587.8 876.1 597 877C604.3 877.7 611.7 878.2 619 878.6C624.7 879 630.5 879.2 636.3 879.4" stroke="url(#g45)" stroke-width="4.6"/>
<path d="M531 882.5C536.5 881.5 542 880.4 547.5 879.2C554.8 877.6 562.2 875.3 569.5 873.7C578.7 871.6 587.8 869.9 597 868.2C604.3 866.8 611.7 865.2 619 864.3C624.7 863.6 630.5 863 636.3 862.7" stroke="url(#g46)" stroke-width="4.6"/>
<path d="M531 885.2C538.3 884.4 545.7 883.5 553 882.5C560.3 881.5 567.7 879.2 575 879.2C580.5 879.2 586 880.3 591.5 881.4C597 882.5 602.5 885.9 608 888C610.9 889.1 613.9 891.3 616.8 891.3C618.6 891.3 620.5 888 622.3 885.8C624.1 883.5 626 878.7 627.8 877C630 874.9 632.2 873 634.4 872.6C635 872.5 635.6 872.4 636.3 872.4C652.5 872.1 668.7 872.3 685 872C690.5 872 696 871.2 701.5 870.4C707 869.6 712.5 867.9 718 866C721.6 864.7 725.3 861.5 729 860.5C732.6 859.4 736.3 858.8 740 858.3C741.7 858.1 743.3 857.9 745 857.7" stroke="url(#g47)" stroke-width="4.6"/>
<path d="M531 885.6C538.3 886.6 545.7 887.8 553 889.1C560.3 890.4 567.7 892.1 575 893.5C582.3 894.9 589.7 896 597 897.3C603.6 898.6 610.2 899.7 616.8 901.2C621.2 902.2 625.6 903.4 630 904.5C632.1 905 634.2 905.5 636.3 906.1C641.5 907.6 646.7 909.4 652 911.1C659.3 913.5 666.6 916.4 674 918.8C681.3 921.2 688.6 923.8 696 925.4C703.3 927 710.6 928.6 718 929.2C727 930.1 736 930.9 745 930.9" stroke="url(#g48)" stroke-width="4.6"/>
<path d="M636.3 903.4C641.5 902.2 646.7 900.7 652 899C659.3 896.6 666.6 892.7 674 890.2C681.3 887.7 688.6 884.7 696 883.6C703.3 882.5 710.6 881.4 718 881.4C727 881.4 736 882 745 883.6" stroke="url(#g49)" stroke-width="4.6"/>
<path d="M636.3 905.8C643 905.8 649.7 905 656.4 903.9C662.2 903 668.1 897.9 674 895.7C681.3 893 688.6 889.7 696 889.1C703.3 888.5 710.6 888 718 888C725.3 888 732.6 888.4 740 889.1C741.7 889.3 743.3 889.9 745 890.4" stroke="url(#g50)" stroke-width="4.6"/>
<path d="M636.3 906.1C645.2 906.1 654.1 906.1 663 906.1C670.3 906.1 677.6 906.7 685 906.7C692.3 906.7 699.6 904.8 707 903.4C712.5 902.3 718 900.2 723.5 899C729 897.7 734.5 896 740 895.7C741.7 895.6 743.3 895.5 745 895.5" stroke="url(#g51)" stroke-width="4.6"/>
<path d="M636.3 908.9C645.2 909.9 654.1 910.5 663 910.5C670.3 910.5 677.6 910.3 685 910C692.3 909.7 699.6 908.6 707 907.2C712.5 906.2 718 903.6 723.5 901.7C727.1 900.5 730.8 899.2 734.5 897.9" stroke="url(#g52)" stroke-width="4.6"/>
<path d="M608 931.4C615.3 929.6 622.7 928.1 630 928.1C633.7 928.1 637.3 928.1 641 928.1C648.3 928.1 655.7 930 663 930.9C670.3 931.8 677.6 933.2 685 933.6C692.3 934 699.6 934.4 707 934.4C719.7 934.4 732.3 934.3 745 933.6" stroke="url(#g53)" stroke-width="4.6"/>
<path d="M636.3 962.8C639.7 962 643.1 961.1 646.5 960C655.7 957.1 664.8 952.5 674 948.5C681.3 945.3 688.6 941.1 696 938.6C699.6 937.3 703.3 936.2 707 935.5C710.6 934.8 714.3 934.1 718 934C727 933.5 736 933.3 745 933.3" stroke="url(#g54)" stroke-width="4.6"/>
<path d="M636.3 962.8C645.2 960.2 654.1 957.2 663 954C670.3 951.3 677.6 946.8 685 945.2C692.3 943.6 699.6 942.3 707 941.9C719.7 941.1 732.3 940.5 745 940.5" stroke="url(#g55)" stroke-width="4.6"/>
<path d="M745.1 828.6C762.9 826.7 780.8 825.1 798.7 824.1C816.5 823.1 834.4 821.8 852.3 821.8C866.7 821.8 881.2 821.8 895.7 821.8" stroke="url(#g56)" stroke-width="4.6"/>
<path d="M745.1 833.1C757 832.2 768.9 832.2 780.8 832.2C789.7 832.2 798.7 836.6 807.6 836.6C822.5 836.6 837.4 834.9 852.3 833.9C866.7 833.1 881.2 832.2 895.7 831.3" stroke="url(#g57)" stroke-width="4.6"/>
<path d="M745.1 829.5C754 830.1 762.9 831 771.9 832.2C783.8 833.7 795.7 836.9 807.6 838.4C819.5 839.9 831.4 840.5 843.3 842C852.3 843.1 861.2 845.4 870.1 846.5C878.7 847.5 887.2 848.3 895.7 848.8" stroke="url(#g58)" stroke-width="4.6"/>
<path d="M745.1 845.6C757 845.4 768.9 845.1 780.8 844.7C792.7 844.3 804.6 843.7 816.5 842.9C828.4 842 840.4 840.1 852.3 838.4C858.2 837.6 864.2 836.6 870.1 835.7C878.7 834.4 887.2 833.1 895.7 831.8" stroke="url(#g59)" stroke-width="4.6"/>
<path d="M745.1 858.1C754 857.6 762.9 856.6 771.9 855.4C780.8 854.2 789.7 851.8 798.7 850C807.6 848.2 816.5 846.1 825.5 844.7C831.4 843.7 837.4 842.9 843.3 842.2" stroke="url(#g60)" stroke-width="4.6"/>
<path d="M745.1 860.7C754 861 762.9 861.3 771.9 861.6C780.8 861.9 789.7 862.5 798.7 862.5C813.6 862.5 828.4 861.1 843.3 859.9C852.3 859.1 861.2 857.9 870.1 856.8C878.7 855.8 887.2 854.7 895.7 853.6" stroke="url(#g61)" stroke-width="4.6"/>
<path d="M745.1 866.5C754 866.5 762.9 866.1 771.9 865.7C780.8 865.4 789.7 863.9 798.7 862.9C804.6 862.2 810.6 861.5 816.5 860.7C828.4 859.3 840.4 857.4 852.3 856.3C866.7 854.9 881.2 853.7 895.7 853.1" stroke="url(#g62)" stroke-width="4.6"/>
<path d="M745.1 869.7C757 868.9 768.9 867.8 780.8 866.5C792.7 865.2 804.6 863.1 816.5 861.6C828.4 860.2 840.4 858.4 852.3 857.5C866.7 856.5 881.2 855.6 895.7 855.4" stroke="url(#g63)" stroke-width="4.6"/>
<path d="M745.1 876.1C754 876.1 762.9 876 771.9 875.9C780.8 875.8 789.7 871.8 798.7 870C810.6 867.7 822.5 865.5 834.4 863.8C846.3 862 858.2 860.4 870.1 859.3C878.7 858.6 887.2 857.9 895.7 857.5" stroke="url(#g64)" stroke-width="4.6"/>
<path d="M745.1 883.6C754 883.6 762.9 883.2 771.9 882.5C777.8 882.1 783.8 878.7 789.7 877.2C798.7 874.9 807.6 873.1 816.5 871.5C828.4 869.2 840.4 866.8 852.3 865.6C866.7 864.1 881.2 862.8 895.7 862.5" stroke="url(#g65)" stroke-width="4.6"/>
<path d="M745.1 890.4C748.6 890.4 752.2 890.9 755.8 891.5C761.1 892.3 766.5 897.2 771.9 900.1C780.8 904.8 789.7 909.3 798.7 914.3C807.6 919.4 816.5 924.3 825.5 930.4C834.4 936.6 843.3 943.7 852.3 951.9C861.2 960 870.1 969.7 879.1 980.5C884.6 987.1 890.1 994.8 895.7 1002.8" stroke="url(#g66)" stroke-width="4.6"/>
<path d="M745.1 895.6C749.8 895.6 754.6 896.5 759.4 897.4C763.5 898.2 767.7 900.7 771.9 901.8C780.8 904.2 789.7 905.1 798.7 907.2C810.6 910 822.5 915.3 834.4 917.9C846.3 920.6 858.2 923 870.1 924.2C878.7 925 887.2 925.7 895.7 926" stroke="url(#g67)" stroke-width="4.6"/>
<path d="M770.1 876.8C776.6 878.7 783.2 881.2 789.7 884C795.7 886.5 801.6 890.4 807.6 892.9C816.5 896.7 825.5 900.7 834.4 902.7C843.3 904.8 852.3 906.3 861.2 907.2C872.7 908.3 884.2 909.4 895.7 909.5" stroke="url(#g68)" stroke-width="4.6"/>
<path d="M771.9 902.7C777.8 907.6 783.8 912.6 789.7 917.9C798.7 925.8 807.6 935.3 816.5 942.9C822.5 948 828.4 952.9 834.4 957.2C843.3 963.8 852.3 968.6 861.2 975.1C867.2 979.5 873.1 984.6 879.1 989.4C884.6 993.8 890.1 998.3 895.7 1002.8" stroke="url(#g69)" stroke-width="4.6"/>
<path d="M745.1 931C754 931 762.9 932 771.9 933.1C780.8 934.2 789.7 937.3 798.7 940.3C807.6 943.2 816.5 947.2 825.5 951.9C834.4 956.6 843.3 963.5 852.3 969.7C861.2 976 870.1 982.5 879.1 989.4C884.6 993.7 890.1 998.2 895.7 1002.8" stroke="url(#g70)" stroke-width="4.6"/>
<path d="M745.1 933.6C757 933.6 768.9 936 780.8 938.5C789.7 940.3 798.7 944.9 807.6 949.2C816.5 953.5 825.5 959.9 834.4 965.3C843.3 970.6 852.3 975.8 861.2 981.3C868.9 986.2 876.7 988.5 884.4 996.5C886.2 998.4 888 1003.9 889.8 1005.5C891.8 1007.2 893.7 1008.9 895.7 1009" stroke="url(#g71)" stroke-width="4.6"/>
<path d="M745.1 940.3C751 940.3 757 941.1 762.9 942C768.9 943 774.8 945.9 780.8 948.3C789.7 951.8 798.7 955.7 807.6 960.8C813.6 964.2 819.5 968.7 825.5 973.3C829.6 976.5 833.8 979.1 838 984C839.8 986.1 841.5 987.9 843.3 993C843.9 994.7 844.5 1000.7 845.1 1003.3C846 1007.3 846.9 1011 847.8 1012.6C850.5 1017.5 853.2 1020.2 855.8 1021.5C860.6 1024 865.4 1025.4 870.1 1026C878.7 1027 887.2 1027.8 895.7 1027.8" stroke="url(#g72)" stroke-width="4.6"/>
<path d="M895.7 831.8C908.3 832.3 921 833.8 933.6 835.4C945.5 836.9 957.4 840.3 969.3 842.5C981.2 844.8 993.2 847.3 1005.1 848.8C1017 850.3 1028.9 852.1 1040.8 852.4C1063.2 852.9 1085.6 853.3 1108 853.3C1137.2 853.3 1166.5 853.3 1195.7 853.3" stroke="url(#g73)" stroke-width="4.6"/>
<path d="M895.7 848.8C920.3 847.9 944.8 847.9 969.3 847.9C981.2 847.9 993.2 849.5 1005.1 850.6C1017 851.7 1028.9 853.7 1040.8 855C1052.7 856.4 1064.6 858.1 1076.5 858.6C1087 859.1 1097.5 859.5 1108 859.5C1137.2 859.5 1166.5 859.5 1195.7 859.5" stroke="url(#g74)" stroke-width="5.5"/>
<path d="M895.7 853.3C920.3 853.3 944.8 853.6 969.3 854.1C987.2 854.5 1005.1 856.7 1022.9 858.6C1034.8 859.9 1046.8 862.9 1058.7 864C1075.1 865.5 1091.5 867.2 1108 867.2C1137.2 867.2 1166.5 867.2 1195.7 867.2" stroke="url(#g75)" stroke-width="4.6"/>
<path d="M895.7 855.9C920.3 855.9 944.8 855.9 969.3 855.9C978.3 855.9 987.2 856.4 996.1 856.8C1005.1 857.2 1014 858 1022.9 858.6C1034.8 859.5 1046.8 860.7 1058.7 861.3C1075.1 862.1 1091.5 863.1 1108 863.1C1137.2 863.1 1166.5 863.1 1195.7 863.1" stroke="url(#g76)" stroke-width="4.6"/>
<path d="M895.7 862.2C908.3 862.4 921 863.6 933.6 864.9C945.5 866.1 957.4 868.9 969.3 871.1C981.2 873.3 993.2 876.4 1005.1 878.3C1017 880.1 1028.9 882.2 1040.8 882.7C1046.8 883 1052.7 883.3 1058.7 883.3C1070.6 883.3 1082.5 880.5 1094.4 880.1C1098.9 879.9 1103.5 879.7 1108 879.7C1137.2 879.7 1166.5 879.7 1195.7 879.7" stroke="url(#g77)" stroke-width="4.6"/>
<path d="M895.7 917.2C902.4 917.1 909.1 915.1 915.7 913.1C921.7 911.3 927.6 907.2 933.6 903.3C939.6 899.4 945.5 893.8 951.5 889C957.4 884.2 963.4 878.3 969.3 874.7C972.9 872.5 976.5 870.3 980.1 869.3C982.4 868.7 984.8 867.9 987.2 867.9C990.2 867.9 993.2 869.5 996.1 871.1C999.1 872.7 1002.1 876.2 1005.1 880.1C1008 883.9 1011 889.4 1014 896.1C1017 902.8 1020 911.5 1022.9 922.9C1024.7 929.8 1026.5 938.9 1028.3 949.7C1029.5 957 1030.7 964.2 1031.9 976.5C1032.5 982.7 1033.1 988 1033.7 1003.3C1033.8 1007.8 1034 1027.2 1034.2 1030.1C1035.4 1051.4 1036.7 1053.6 1037.9 1060.2C1040.4 1073.4 1042.9 1080.3 1045.5 1087.8C1048.8 1097.8 1052.1 1105.4 1055.5 1112.9C1059.7 1122.2 1063.8 1131.1 1068 1137.9C1072.2 1144.8 1076.4 1150.6 1080.6 1155.5C1084.7 1160.4 1088.9 1164.8 1093.1 1168C1097.3 1171.3 1101.4 1174.5 1105.6 1176C1106.5 1176.4 1107.3 1176.8 1108.1 1176.8C1137.4 1176.8 1166.6 1176.8 1195.9 1176.8C1207.6 1176.8 1219.3 1176.5 1231 1176C1243.5 1175.6 1256 1173.7 1268.6 1171.8C1281.1 1169.9 1293.6 1166.1 1306.2 1163C1318.7 1159.9 1331.2 1155.7 1343.8 1153C1356.3 1150.2 1368.8 1147.2 1381.4 1146C1389.8 1145.1 1398.3 1144.4 1406.7 1144.2" stroke="url(#g78)" stroke-width="4.6"/>
<path d="M895.7 926.5C905.4 926.3 915 925.1 924.7 923.8C933.6 922.6 942.5 919.5 951.5 917.6C963.4 915 975.3 912.5 987.2 910.4C999.1 908.4 1011 907.2 1022.9 905.1C1034.8 902.9 1046.8 899.3 1058.7 897C1067.6 895.3 1076.5 893.1 1085.5 892.6C1093 892.1 1100.5 891.7 1108 891.7C1137.2 891.7 1166.5 891.7 1195.7 891.7" stroke="url(#g79)" stroke-width="4.6"/>
<path d="M895.7 1002.4C899.4 995.4 903.1 988.5 906.8 981.9C912.8 971.3 918.7 960.3 924.7 951.5C930.6 942.7 936.6 934.6 942.5 928.3C948.5 922 954.4 916.9 960.4 912.2C966.4 907.5 972.3 903.2 978.3 899.7C984.2 896.2 990.2 893.3 996.1 890.8C1000.9 888.7 1005.7 886.2 1010.4 885.4C1014.6 884.7 1018.8 884 1022.9 884C1028.9 884 1034.8 884.7 1040.8 885.4C1046.8 886.2 1052.7 888.5 1058.7 890.8C1064.6 893 1070.6 897.5 1076.5 899.7C1082.5 901.9 1088.4 904.7 1094.4 905.1C1098.9 905.4 1103.5 905.6 1108 905.6C1137.2 905.6 1166.5 905.6 1195.7 905.1" stroke="url(#g80)" stroke-width="4.6"/>
<path d="M895.7 1002.4C902.4 996.9 909.1 991.7 915.7 987.3C924.7 981.2 933.6 976 942.5 971.2C951.5 966.3 960.4 962.5 969.3 957.8C978.3 953 987.2 948.3 996.1 942.6C1005.1 936.9 1014 928.8 1022.9 922.9C1028.9 919 1034.8 914.6 1040.8 912.2C1046.8 909.8 1052.7 907.6 1058.7 906.9C1064.6 906.1 1070.6 905.4 1076.5 905.4C1087 905.4 1097.5 906.5 1108 906.7C1137.2 907 1166.5 907.2 1195.7 907.2" stroke="url(#g81)" stroke-width="4.6"/>
<path d="M895.7 1028C905.4 1028.3 915 1028.3 924.7 1028.3C930.6 1028.3 936.6 1026.7 942.5 1024.8C946.7 1023.4 950.9 1020.5 955 1015.8C957.1 1013.5 959.2 1008.7 961.3 1003.3C962.2 1001 963.1 996.3 964 994.4C967 988.1 969.9 984.2 972.9 981.9C977.7 978.3 982.4 975.5 987.2 974.7C992 974 996.7 973.3 1001.5 973.3C1006.3 973.3 1011 975.8 1015.8 978.3C1019.4 980.2 1022.9 983.2 1026.5 989C1028 991.5 1029.5 998 1031 1003.3C1031.9 1006.5 1032.8 1012.2 1033.7 1014.1C1035.9 1018.7 1038.2 1020.3 1040.4 1022.6C1045.5 1027.8 1050.5 1031.8 1055.5 1035.2C1062.2 1039.7 1068.9 1044 1075.5 1046.4C1083.9 1049.5 1092.3 1052.1 1100.6 1053.2C1103.1 1053.5 1105.6 1054 1108.1 1054C1137.4 1054 1166.6 1054 1195.9 1054" stroke="url(#g82)" stroke-width="4.6"/>
<path d="M1040.8 850.6C1052.7 850.6 1064.6 850.7 1076.5 850.8C1087 850.8 1097.5 850.9 1108 850.9C1137.2 850.9 1166.5 850.9 1195.7 850.9" stroke="#8c0073" stroke-width="4.6"/>
<path d="M1058.7 855.9C1075.1 856 1091.5 856.1 1108 856.1C1137.2 856.1 1166.5 856.1 1195.7 856.1" stroke="#8c0073" stroke-width="4.6"/>
<path d="M1195.7 811.8C1207.6 812 1219.6 812.9 1231.5 813.9C1243.4 815 1255.3 817.2 1267.2 819.3C1279.1 821.5 1291 825.1 1302.9 827.3C1313.7 829.4 1324.4 830.9 1335.1 832.7C1342.2 833.9 1349.4 835.2 1356.5 836.3C1365.5 837.6 1374.4 839.2 1383.3 839.9C1391.2 840.4 1399.1 841 1406.9 841.1" stroke="url(#g83)" stroke-width="4.6"/>
<path d="M1195.7 850.9C1207.6 847.5 1219.6 844.5 1231.5 842.2C1243.4 839.8 1255.3 837.5 1267.2 836.3C1279.1 835.1 1291 834.4 1302.9 833.6C1313.7 832.9 1324.4 832 1335.1 831.8C1348.2 831.6 1361.3 831.5 1374.4 831.5C1385.2 831.5 1396.1 831.6 1406.9 831.8" stroke="url(#g84)" stroke-width="5"/>
<path d="M1195.7 853.3C1207.6 851.8 1219.6 849.9 1231.5 847.9C1243.4 845.9 1255.3 843 1267.2 840.7C1279.1 838.5 1291 834.5 1302.9 834.5C1308.9 834.5 1314.8 836.3 1320.8 837.2C1332.7 839 1344.6 840.6 1356.5 842.5C1365.5 843.9 1374.4 846.1 1383.3 847C1391.2 847.8 1399.1 848.5 1406.9 848.8" stroke="url(#g85)" stroke-width="4.6"/>
<path d="M1195.7 856.1C1199.9 857.1 1204.1 857.7 1208.2 857.7C1216 857.7 1223.7 854.9 1231.5 853.3C1243.4 850.7 1255.3 847.3 1267.2 844.3C1276.7 841.9 1286.3 839 1295.8 837.2C1304.1 835.6 1312.5 834.2 1320.8 833.2" stroke="url(#g86)" stroke-width="4.6"/>
<path d="M1195.7 859.5C1204.7 860 1213.6 861.9 1222.5 864C1231.5 866.1 1240.4 870.4 1249.3 874.7C1258.3 879 1267.2 884.9 1276.1 890.8C1285.1 896.7 1294 903.3 1302.9 910.4C1311.9 917.5 1320.8 925.6 1329.7 933.7C1338.7 941.7 1347.6 950.6 1356.5 958.7C1365.5 966.7 1374.4 974.1 1383.3 981.9C1391.2 988.7 1399.1 995.6 1406.9 1002.4" stroke="url(#g87)" stroke-width="5.2"/>
<path d="M1195.7 863.1C1207.6 863.7 1219.6 864 1231.5 864C1249.3 864 1267.2 863.1 1285.1 862.2C1297 861.6 1308.9 859.6 1320.8 858.6C1332.7 857.6 1344.6 857 1356.5 855.9C1365.5 855.2 1374.4 854 1383.3 853.3C1391.2 852.6 1399.1 852 1406.9 851.5" stroke="url(#g88)" stroke-width="4.6"/>
<path d="M1195.7 867.2C1207.6 868.6 1219.6 869.3 1231.5 869.3C1237.4 869.3 1243.4 868.8 1249.3 868.8C1261.2 868.8 1273.2 872.9 1285.1 872.9C1294 872.9 1302.9 871.9 1311.9 871.1C1320.8 870.3 1329.7 869 1338.7 867.5C1350.6 865.7 1362.5 862.5 1374.4 860.4C1385.2 858.4 1396.1 856.6 1406.9 855" stroke="url(#g89)" stroke-width="4.6"/>
<path d="M1195.7 879.7C1201.7 879.7 1207.6 880.7 1213.6 881.8C1219.6 882.9 1225.5 886.3 1231.5 889C1237.4 891.6 1243.4 895.3 1249.3 897.9C1255.3 900.6 1261.2 903.5 1267.2 905.1C1273.2 906.7 1279.1 907.6 1285.1 908.6C1291 909.7 1297 910.2 1302.9 911.3C1311.9 912.9 1320.8 915.6 1329.7 917.6C1338.7 919.5 1347.6 921.6 1356.5 922.9C1365.5 924.3 1374.4 925.7 1383.3 926.1C1391.2 926.5 1399.1 926.9 1406.9 926.9" stroke="url(#g90)" stroke-width="4.6"/>
<path d="M1195.7 879.7C1207.6 879.3 1219.6 878.7 1231.5 877.9C1243.4 877.1 1255.3 876 1267.2 874.7C1279.1 873.4 1291 871.2 1302.9 869.3C1314.8 867.5 1326.8 865.4 1338.7 863.6C1350.6 861.8 1362.5 859.5 1374.4 858.6C1385.2 857.8 1396.1 857 1406.9 856.8" stroke="url(#g91)" stroke-width="4.6"/>
<path d="M1195.7 891.7C1201.7 891.7 1207.6 890.8 1213.6 889.9C1219.6 889 1225.5 885.9 1231.5 883.6C1237.4 881.4 1243.4 877.8 1249.3 876.5C1255.3 875.2 1261.2 873.8 1267.2 873.8C1273.2 873.8 1279.1 874.9 1285.1 875.6C1291 876.3 1297 878.3 1302.9 878.3C1308.9 878.3 1314.8 877.9 1320.8 877.4C1326.8 876.9 1332.7 874.6 1338.7 872.9C1347.6 870.4 1356.5 866.2 1365.5 864C1374.4 861.7 1383.3 859.4 1392.3 858.6C1397.2 858.2 1402 857.8 1406.9 857.7" stroke="url(#g92)" stroke-width="4.6"/>
<path d="M1195.7 892.2C1204.7 892.2 1213.6 892 1222.5 891.7C1228.5 891.4 1234.4 890.1 1240.4 889C1249.3 887.3 1258.3 883.7 1267.2 881.8C1276.1 880 1285.1 877.4 1294 877.4C1300 877.4 1305.9 877.4 1311.9 877.9" stroke="url(#g93)" stroke-width="4.6"/>
<path d="M1195.7 905.1C1201.7 902.3 1207.6 900.1 1213.6 900.1C1219.6 900.1 1225.5 900.7 1231.5 901.5C1237.4 902.3 1243.4 905.3 1249.3 907.7C1258.3 911.4 1267.2 916.5 1276.1 921.1C1285.1 925.8 1294 930.4 1302.9 935.4C1311.9 940.5 1320.8 946.2 1329.7 951.5C1338.7 956.9 1347.6 962 1356.5 967.6C1365.5 973.2 1374.4 979.3 1383.3 985.5C1391.2 990.9 1399.1 996.6 1406.9 1002.4" stroke="url(#g94)" stroke-width="4.6"/>
<path d="M1195.7 906.5C1204.7 906 1213.6 906 1222.5 906C1231.5 906 1240.4 910 1249.3 913.1C1258.3 916.2 1267.2 921.8 1276.1 926.5C1285.1 931.3 1294 936.3 1302.9 941.7C1308.9 945.3 1314.8 949.3 1320.8 953.3C1326.8 957.3 1332.7 961.4 1338.7 965.8C1344.6 970.3 1350.6 974.4 1356.5 980.1C1360.1 983.6 1363.7 986.1 1367.3 992.6C1368.4 994.8 1369.6 999.6 1370.8 1003.3C1371.7 1006.2 1372.6 1010.6 1373.5 1012.3C1376.2 1017.1 1378.9 1019.3 1381.5 1021.2C1385.1 1023.7 1388.7 1026 1392.3 1026.6C1397.2 1027.4 1402 1028 1406.9 1028" stroke="url(#g95)" stroke-width="4.6"/>
<path d="M1195.7 907.7C1207.6 914.7 1219.6 921.6 1231.5 928.3C1243.4 935 1255.3 941.4 1267.2 947.9C1279.1 954.5 1291 960.8 1302.9 967.6C1311.9 972.7 1320.8 976.7 1329.7 983.7C1333.3 986.5 1336.9 988.2 1340.5 994.4C1341.3 995.9 1342.2 1000.7 1343.1 1003.3C1344 1006 1344.9 1009.3 1345.8 1010.5C1349.4 1015.2 1353 1016.8 1356.5 1018.5C1362.5 1021.5 1368.4 1023.5 1374.4 1024.8C1380.4 1026 1386.3 1027.1 1392.3 1027.5C1397.2 1027.7 1402 1028 1406.9 1028" stroke="url(#g96)" stroke-width="4.6"/>
<path d="M1195.9 1054C1200.9 1054 1205.9 1052.1 1210.9 1050.2C1215.1 1048.6 1219.3 1044.8 1223.4 1040.2C1226 1037.4 1228.5 1033.8 1231 1027.6C1232.2 1024.5 1233.5 1019.4 1234.7 1012.6C1235.1 1010.3 1235.6 1006.9 1236 1003.3C1236.6 998.4 1237.1 988.2 1237.7 985.5C1239.8 975.8 1241.9 973.4 1244 969.4C1247.5 962.5 1251.1 957.6 1254.7 953.3C1258.9 948.3 1263 945 1267.2 940.8C1272 936 1276.7 930.9 1281.5 926.5C1285.7 922.7 1289.8 918.7 1294 915.8C1297 913.7 1300 912.1 1302.9 910.4C1305.9 908.8 1308.9 906.9 1311.9 906C1317.8 904.2 1323.8 902.4 1329.7 902.4C1338.7 902.4 1347.6 902.9 1356.5 903.3C1365.5 903.7 1374.4 904.5 1383.3 905.1C1391.2 905.6 1399.1 906 1406.9 906.5" stroke="url(#g97)" stroke-width="4.6"/>
<path d="M1200.9 1054C1205.7 1054 1210.6 1052.1 1215.4 1050.2C1219.6 1048.5 1223.8 1044.8 1228 1040.2C1230.5 1037.4 1233 1034.2 1235.5 1027.6C1236.6 1024.8 1237.7 1019 1238.7 1012.6C1239.2 1010.1 1239.6 1006.8 1240 1003.3C1240.6 998.2 1241.2 988.2 1241.8 985.5C1243.6 977.6 1245.4 975.3 1247.2 972.1C1250.9 965.3 1254.6 961 1258.3 956.9C1262.4 952.2 1266.6 947.6 1270.8 945.3C1274.3 943.2 1277.9 941.6 1281.5 940.8C1285.7 939.9 1289.8 939 1294 939C1298.8 939 1303.5 941 1308.3 942.6C1312.5 944 1316.6 946.3 1320.8 948.8C1326.8 952.5 1332.7 958.9 1338.7 964C1344.6 969.2 1350.6 974.4 1356.5 979.7" stroke="url(#g98)" stroke-width="4.6"/>
<path d="M1407 822.9C1419.2 822.9 1431.4 822.5 1443.6 822C1455.5 821.5 1467.4 819 1479.3 817.5C1491.2 816 1503.2 813.7 1515.1 813.1C1527.4 812.4 1539.7 811.8 1552.1 811.8C1581.5 811.8 1611 811.8 1640.5 811.8" stroke="url(#g99)" stroke-width="4.6"/>
<path d="M1407 832.7C1418 833 1429 833.7 1440 834.5C1453.1 835.4 1466.2 837 1479.3 839C1491.2 840.8 1503.2 844.7 1515.1 847C1524 848.7 1532.9 850.5 1541.9 851.5C1545.3 851.8 1548.7 852.4 1552.1 852.4C1581.5 852.4 1611 852.4 1640.5 852.4" stroke="url(#g100)" stroke-width="4.6"/>
<path d="M1407 839C1419.2 839 1431.4 839.8 1443.6 840.7C1455.5 841.6 1467.4 844.1 1479.3 846.1C1491.2 848.1 1503.2 850.7 1515.1 853.3C1522.8 854.9 1530.6 858.3 1538.3 858.6C1542.9 858.8 1547.5 859 1552.1 859C1581.5 859 1611 859 1640.5 859" stroke="url(#g101)" stroke-width="5.5"/>
<path d="M1407 847.9C1419.2 848.2 1431.4 849.3 1443.6 850.6C1455.5 851.8 1467.4 854.8 1479.3 856.8C1488.3 858.4 1497.2 861 1506.1 861.3C1515.1 861.6 1524 861.6 1532.9 861.8C1539.3 862 1545.7 862.7 1552.1 862.7C1581.5 863 1611 863.1 1640.5 863.1" stroke="url(#g102)" stroke-width="4.6"/>
<path d="M1407 859.5C1425.1 859.5 1443.3 859.5 1461.5 859.5C1470.4 859.5 1479.3 860.1 1488.3 860.4C1495.4 860.7 1502.6 861.3 1509.7 861.3C1520.4 861.3 1531.1 860.9 1541.9 860.4C1545.3 860.2 1548.7 859.7 1552.1 859.3" stroke="url(#g103)" stroke-width="4.6"/>
<path d="M1407 872.9C1425.1 872.8 1443.3 872.4 1461.5 872C1479.3 871.6 1497.2 871.2 1515.1 870.2C1524 869.8 1532.9 868 1541.9 867.5C1545.3 867.4 1548.7 867.2 1552.1 867.2C1581.5 867.2 1611 867.2 1640.5 867.2" stroke="url(#g104)" stroke-width="4.6"/>
<path d="M1407 882.7C1413.2 882.7 1419.5 883.1 1425.7 883.6C1433.5 884.2 1441.2 887.6 1449 890.8C1454.3 893 1459.7 896.7 1465 900.1C1468.6 902.3 1472.2 907.2 1475.8 907.2C1479.9 907.2 1484.1 901.7 1488.3 898.8C1492.4 895.9 1496.6 892.2 1500.8 889.9C1505.5 887.2 1510.3 884.7 1515.1 883.3C1519.8 881.8 1524.6 880.2 1529.4 880.1C1536.9 879.8 1544.5 879.7 1552.1 879.7C1581.5 879.7 1611 879.7 1640.5 880.1" stroke="url(#g105)" stroke-width="4.6"/>
<path d="M1407 943.5C1413.2 943.1 1419.5 941.6 1425.7 939.9C1431.7 938.3 1437.6 934.9 1443.6 931.9C1449.6 928.8 1455.5 924.2 1461.5 921.1C1466.8 918.4 1472.2 916.8 1477.5 914C1484.1 910.6 1490.6 905.5 1497.2 901.5C1503.2 897.8 1509.1 893.5 1515.1 890.8C1521 888 1527 885.5 1532.9 884C1535.9 883.2 1538.9 882.7 1541.9 882.2C1545.3 881.6 1548.7 881 1552.1 880.6" stroke="url(#g106)" stroke-width="4.6"/>
<path d="M1474 910.4C1477 913.2 1479.9 915.9 1482.9 918.5C1484.7 920 1486.5 921.2 1488.3 922.9C1491.2 925.8 1494.2 929.7 1497.2 933.7C1502 940 1506.7 946.1 1511.5 955.1C1514.5 960.7 1517.4 966.8 1520.4 976.5C1521.7 980.8 1523 984.6 1524.4 994.4C1524.6 996.2 1524.8 1003.3 1525.1 1003.3C1525.2 1003.3 1525.3 995.1 1525.3 995.1C1525.6 995.1 1525.8 1008 1526.1 1010.2C1527.1 1019.4 1528.1 1022.1 1529.1 1025.4C1531.1 1031.9 1533.2 1036.1 1535.2 1039C1537.7 1042.5 1540.2 1044.6 1542.7 1046.5C1545.8 1048.9 1548.9 1051 1552 1052.3" stroke="url(#g107)" stroke-width="4.6"/>
<path d="M1407 885.4C1414.4 884.7 1421.9 884 1429.3 883.6C1440 883.1 1450.7 882.4 1461.5 882.4C1470.4 882.4 1479.3 882.9 1488.3 883.6C1494.2 884.1 1500.2 885.8 1506.1 887.2C1512.1 888.6 1518 890.5 1524 892.6C1530 894.6 1535.9 897.5 1541.9 899.7C1545.3 901 1548.7 903.2 1552.1 903.3C1581.5 903.8 1611 903.8 1640.5 903.8" stroke="url(#g108)" stroke-width="4.6"/>
<path d="M1407 886.7C1419.2 886.8 1431.4 887.2 1443.6 887.6C1455.5 887.9 1467.4 888.7 1479.3 889.3C1488.3 889.9 1497.2 890.2 1506.1 891.1C1512.1 891.7 1518 893 1524 894.3C1530 895.7 1535.9 898.1 1541.9 900.1C1545.3 901.2 1548.7 902.4 1552.1 903.6" stroke="url(#g109)" stroke-width="4.6"/>
<path d="M1407 891.7C1421.6 891.9 1436.2 892.1 1450.7 892.2C1466.2 892.3 1481.7 892.6 1497.2 892.6C1506.1 892.6 1515.1 891.7 1524 891.7C1533.4 891.7 1542.7 891.7 1552.1 891.7C1581.5 891.7 1611 891.7 1640.5 891.7" stroke="url(#g110)" stroke-width="4.6"/>
<path d="M1407 947.1C1413.2 947.1 1419.5 946.7 1425.7 946.2C1434.7 945.4 1443.6 940.5 1452.5 937.2C1461.5 934 1470.4 930.1 1479.3 926.5C1488.3 922.9 1497.2 918.8 1506.1 915.8C1515.1 912.7 1524 909.4 1532.9 907.7C1539.3 906.6 1545.7 905.2 1552.1 905.1C1581.5 904.6 1611 904.5 1640.5 904.5" stroke="url(#g111)" stroke-width="4.6"/>
<path d="M1407 970.8C1412 970.6 1417.1 968.3 1422.2 965.8C1426.3 963.8 1430.5 958.9 1434.7 955.1C1439.4 950.7 1444.2 945.9 1449 940.8C1453.1 936.3 1457.3 930.9 1461.5 926.5C1464.4 923.3 1467.4 920.3 1470.4 917.6C1472.2 916 1474 914.5 1475.8 913.1" stroke="url(#g112)" stroke-width="4.6"/>
<path d="M1407 1028C1412 1028 1417.1 1026.5 1422.2 1024.8C1425.7 1023.6 1429.3 1021.7 1432.9 1017.6C1434.4 1015.9 1435.9 1012.6 1437.3 1006.9C1437.9 1004.6 1438.5 996.2 1439.1 994.4C1441.2 987.9 1443.3 986.4 1445.4 983.7C1449.6 978.3 1453.7 974.9 1457.9 971.2C1463.8 965.8 1469.8 961.5 1475.8 956.9C1482.9 951.3 1490.1 946 1497.2 940.8C1503.2 936.5 1509.1 932.1 1515.1 928.3C1521 924.4 1527 920.5 1532.9 917.6C1539.3 914.4 1545.7 909.8 1552.1 909.5C1581.5 908.1 1611 907.7 1640.5 907.7" stroke="url(#g113)" stroke-width="4.6"/>
<path d="M1552.1 850.9C1581.5 850.9 1611 850.9 1640.5 850.9" stroke="#8c0073" stroke-width="4.6"/>
<path d="M1552.1 855.9C1581.5 855.9 1611 855.9 1640.5 855.9" stroke="#8c0073" stroke-width="4.6"/>
<path d="M1406.9 1054.9C1421.5 1053.3 1436 1052 1450.5 1051.1C1461.6 1050.3 1472.7 1049.3 1483.8 1049.3C1495.3 1049.3 1506.9 1050.4 1518.5 1051.1C1529.7 1051.8 1540.8 1053.6 1552 1053.6C1581.6 1053.6 1611.3 1053.6 1641 1053.6" stroke="url(#g114)" stroke-width="4.6"/>
<path d="M1406.9 1161.5C1416.4 1161.8 1425.9 1162.7 1435.4 1163.7C1445.4 1164.8 1455.5 1167.4 1465.6 1169C1475.7 1170.7 1485.8 1172.6 1495.9 1173.6C1505.9 1174.6 1516 1175.4 1526.1 1175.8C1534.7 1176.2 1543.3 1176.6 1552 1176.6C1581.6 1176.6 1611.3 1176.6 1641 1176.6" stroke="#ac0053" stroke-width="4.6"/>
<path d="M314.5 1003H1704" stroke="#808080" stroke-width="2.4"/>
</g>
<g fill="none" stroke-linejoin="round" stroke-linecap="butt"><path d="M1746.0 336.6L2155.0 339.4L1747.0 344.2L1746.5 524.0L1746.3 525.0L1754.4 528.7L1768.0 533.6L1771.7 538.6L1776.7 542.3L1768.0 548.5L1771.7 552.2L1756.1 558.4L1782.4 564.6L1780.4 569.5L1777.9 573.2L1764.3 576.9L1753.2 584.4L1746.3 587.3L1746.5 608.0L1945.5 610.4L1746.5 612.2L1746.3 708.0L1746.2 711.4L1749.2 714.2L1764.4 717.7L1989.9 721.2L1759.7 725.4L1822.8 730.1L1746.2 733.1L1746.2 750.0L1764.4 753.5L1777.2 758.1L1762.1 762.8L1758.6 772.1L1764.4 781.5L1749.2 787.3L1746.2 790.8L1746.2 803.7L1750.4 808.4L1767.9 813.0L1769.1 816.5L1811.1 822.4L1797.1 826.4L1857.9 834.1L1868.4 841.1L1808.8 845.7L1834.5 850.4L1813.5 853.5L1854.3 859.8L1873.0 865.6L1886.4 872.1L1829.8 877.3L1852.7 880.8L1778.4 887.8L1791.3 891.3L1777.2 896.4L1822.8 904.2L1797.1 910.0L1792.4 917.0L1785.4 924.0L1802.9 933.4L1795.9 936.9L1811.1 939.7L1783.1 948.6L1777.2 957.9L1759.7 973.1L1752.7 987.1L1755.5 993.0L1753.5 1026.0L1753.5 1040.8L1750.0 1052.4L1750.0 1092.0L1752.2 1141.5L1754.0 1163.8" stroke="#000" stroke-width="5.6"/><path d="M1746.0 336.8L2046.5 339.4L1746.0 344.0L1746.0 712.0L1746.2 716.1L1760.9 721.2L1745.7 727.8L1745.7 750.0L1755.0 757.0L1753.9 781.5L1746.2 788.5L1746.2 809.5L1749.2 823.6L1748.0 837.6L1751.5 858.6L1750.4 875.0L1747.6 893.6L1748.5 940.4L1747.6 987.1L1746.1 1026.0" stroke="#1f77b4" stroke-width="3.6"/><path d="M1744.8 336.0L1744.8 348.0L1746.3 360.0L1746.3 515.0L1744.8 527.0L1744.5 585.0L1746.3 595.0L1746.3 712.0L1745.7 713.7L1755.0 721.2L1746.9 725.4L1751.5 728.9L1745.7 732.4L1745.7 750.0L1746.9 753.5L1747.6 781.5L1745.7 787.3L1746.2 804.9L1750.4 809.5L1762.1 814.2L1764.4 818.9L1794.8 821.9L1764.4 828.2L1787.8 831.7L1794.8 840.4L1770.2 844.6L1779.6 850.4L1770.2 858.6L1774.9 865.6L1772.6 871.4L1758.6 874.5L1767.9 880.8L1755.0 886.6L1760.9 891.3L1757.4 896.0L1772.6 904.2L1764.4 911.2L1762.1 919.3L1764.4 928.7L1770.2 936.9L1772.6 939.2L1758.6 948.6L1752.7 961.4L1748.0 982.4L1747.2 993.0L1746.1 1026.0L1745.6 1092.0L1746.1 1163.8" stroke="#ff7f0e" stroke-width="3.6"/><path d="M1746.0 337.2L1856.0 339.4L1747.0 343.6L1746.5 524.0L1746.3 525.0L1753.2 528.7L1766.8 533.6L1770.5 538.6L1775.5 542.3L1766.8 548.5L1770.5 552.2L1754.9 558.4L1781.2 564.6L1779.2 569.5L1776.7 573.2L1763.1 576.9L1752.0 584.4L1746.3 587.3L1746.5 608.3L1943.8 610.4L1746.5 612.0L1746.3 708.0L1746.2 711.9L1749.2 714.7L1764.4 718.2L1970.0 721.2L1757.4 725.7L1818.1 729.6L1746.2 732.9L1746.2 750.0L1764.4 757.0L1753.9 762.8L1751.5 772.1L1756.2 781.5L1746.9 787.3L1746.2 803.7L1750.4 818.9L1760.9 827.1L1815.8 834.1L1810.0 837.6L1817.0 840.4L1781.9 844.6L1794.8 850.4L1781.9 853.5L1818.1 860.9L1839.2 865.6L1854.3 871.4L1815.8 875.0L1826.3 879.6L1771.4 886.6L1774.9 891.3L1764.4 896.0L1795.9 904.2L1774.9 911.2L1776.1 919.3L1769.1 924.0L1776.1 933.4L1772.6 936.9L1781.2 939.2L1766.7 948.6L1766.7 957.9L1755.0 973.1L1749.2 987.1L1752.2 993.0L1749.4 1026.0L1751.3 1040.8L1747.7 1052.4L1748.0 1092.0L1749.4 1141.5L1750.2 1163.8" stroke="#2ca02c" stroke-width="3.8"/></g>
<g fill="none" stroke="#000" stroke-width="4" stroke-linecap="square">
<rect x="314.5" y="294.5" width="1389.5" height="924"/>
<rect x="1726.5" y="294.5" width="447.5" height="924"/>
</g>
<g fill="none" stroke="#000" stroke-width="4" stroke-linecap="butt">
<path d="M376.9 294.5v20 M376.9 1218.5v-20M531 294.5v20 M531 1218.5v-20M636.3 294.5v20 M636.3 1218.5v-20M745 294.5v20 M745 1218.5v-20M895.7 294.5v20 M895.7 1218.5v-20M1108 294.5v20 M1108 1218.5v-20M1195.7 294.5v20 M1195.7 1218.5v-20M1406.9 294.5v20 M1406.9 1218.5v-20M1552 294.5v20 M1552 1218.5v-20M1639.7 294.5v20 M1639.7 1218.5v-20M314.5 381h20 M1704 381h-20M1726.5 381h20 M2174 381h-20M314.5 536.5h20 M1704 536.5h-20M1726.5 536.5h20 M2174 536.5h-20M314.5 692h20 M1704 692h-20M1726.5 692h20 M2174 692h-20M314.5 847.5h20 M1704 847.5h-20M1726.5 847.5h20 M2174 847.5h-20M314.5 1003h20 M1704 1003h-20M1726.5 1003h20 M2174 1003h-20M314.5 1158.5h20 M1704 1158.5h-20M1726.5 1158.5h20 M2174 1158.5h-20M1746 294.5v20 M1746 1218.5v-20M2125.2 294.5v20 M2125.2 1218.5v-20"/>
</g>
<rect x="320" y="208" width="695.5" height="55" fill="url(#cb)" stroke="#000" stroke-width="4"/>
<path d="M379 208v20 M379 263v-20M591 208v20 M591 263v-20M803 208v20 M803 263v-20" stroke="#000" stroke-width="4" fill="none"/>
<g font-family='"Liberation Sans", sans-serif' font-size="100" fill="#000">
<text transform="translate(173.69 403.40) scale(0.6611 0.6042)">200</text>
<text transform="translate(175.79 558.90) scale(0.6446 0.6042)">150</text>
<text transform="translate(175.79 714.40) scale(0.6446 0.6042)">100</text>
<text transform="translate(212.45 869.90) scale(0.6370 0.6042)">50</text>
<text transform="translate(250.33 1025.40) scale(0.6245 0.6042)">0</text>
<text transform="translate(164.19 1180.90) scale(0.7036 0.6042)">−50</text>
<text transform="translate(112.10 1015.21) rotate(-90) scale(0.6516 0.6275)">Frequency (cm</text>
<text transform="translate(90.40 577.19) rotate(-90) scale(0.4981 0.4377)">−1</text>
<text transform="translate(107.98 513.70) rotate(-90) scale(0.4821 0.5628)">)</text>
<text transform="translate(361.48 1292.88) scale(0.6022 0.6157)">Γ</text>
<text transform="translate(512.55 1292.90) scale(0.5730 0.6159)">X</text>
<text transform="translate(620.85 1292.90) scale(0.5185 0.6159)">P</text>
<text transform="translate(727.28 1292.90) scale(0.5649 0.6159)">N</text>
<text transform="translate(880.20 1292.88) scale(0.6000 0.6157)">Γ</text>
<text transform="translate(1085.27 1292.90) scale(0.5912 0.6159)">M</text>
<text transform="translate(1617.33 1292.90) scale(0.6088 0.6159)">M</text>
<text transform="translate(1150.40 1278.88) scale(0.3746 0.4208)">S</text>
<text transform="translate(1198.32 1310.58) scale(0.3712 0.4167)">S</text>
<text transform="translate(1224.93 1316.92) scale(0.2898 0.2845)">0</text>
<text transform="translate(1371.36 1278.49) scale(0.4178 0.4100)">Γ</text>
<text transform="translate(1416.80 1310.70) scale(0.3984 0.4188)">X</text>
<text transform="translate(1513.25 1278.70) scale(0.3817 0.4100)">R</text>
<text transform="translate(1562.09 1311.17) scale(0.4212 0.4310)">G</text>
<text transform="translate(1730.13 1293.19) scale(0.6245 0.6141)">0</text>
<text transform="translate(2107.98 1293.20) scale(0.6043 0.6143)">2</text>
<text transform="translate(1798.15 1384.29) scale(0.6315 0.6125)">DOS (a.u.)</text>
<text transform="translate(323.32 169.98) scale(0.5585 0.5197)">0.25</text>
<text transform="translate(535.81 169.98) scale(0.5638 0.5197)">0.50</text>
<text transform="translate(746.82 169.98) scale(0.5585 0.5197)">0.75</text>
<text transform="translate(958.54 169.98) scale(0.5652 0.5197)">1.00</text>
<text transform="translate(436.47 99.00) scale(0.5657 0.5290)">Participation Ratio</text>
</g>
<g fill="#000">
<path d="M1178.8 1307H1184.4L1197.6 1259H1192Z"/>
<path d="M1395 1306H1400.6L1414.5 1257.4H1408.9Z"/>
<path d="M1543 1306H1548.6L1562.4 1257.4H1556.8Z"/>
</g>
<rect x="1946.7" y="916.8" width="202.7" height="277" fill="#fff" stroke="#111" stroke-width="1.6"/>
<g fill="none" stroke-linecap="butt">
<path d="M1964.3 957.1H1995.4" stroke="#000" stroke-width="6"/>
<path d="M1965 1019.8H1994" stroke="#1f77b4" stroke-width="3.6"/>
<path d="M1965 1082.6H1994" stroke="#ff7f0e" stroke-width="3.6"/>
<path d="M1965 1145.8H1994" stroke="#2ca02c" stroke-width="3.6"/>
</g>
<g font-family='"Liberation Sans", sans-serif' font-size="100" fill="#000">
<text transform="translate(2012.30 975.78) scale(0.5522 0.5203)">Total</text>
<text transform="translate(2012.89 1038.88) scale(0.4885 0.5203)">Pd</text>
<text transform="translate(2012.04 1101.37) scale(0.4912 0.5310)">Cs</text>
<text transform="translate(2012.82 1164.00) scale(0.5200 0.5290)">I</text>
</g>
</svg></body></html>
